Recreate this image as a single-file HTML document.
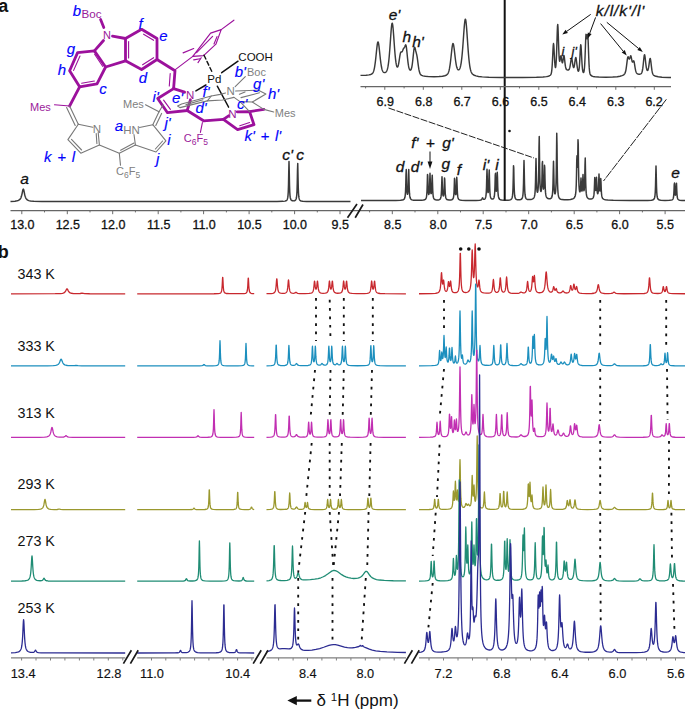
<!DOCTYPE html>
<html><head><meta charset="utf-8"><title>NMR figure</title>
<style>
html,body{margin:0;padding:0;background:#fff;}
svg{display:block;}
text{font-family:"Liberation Sans",sans-serif;}
.bi{font-style:italic;fill:#0404fc;font-size:15px;word-spacing:1.5px;stroke:#0404fc;stroke-width:0.15px;}
.ki{font-style:italic;fill:#111;font-size:15.5px;stroke:#111;stroke-width:0.3px;}
.ax{font-size:12.5px;fill:#111;stroke:#111;stroke-width:0.3px;text-anchor:middle;}
.axb{font-size:12.8px;fill:#111;stroke:#111;stroke-width:0.15px;text-anchor:middle;}
.pu{fill:#9a1a9a;font-size:11px;}
.gr{fill:#808080;font-size:11px;}
</style></head><body>
<svg width="685" height="710" viewBox="0 0 685 710">
<rect width="685" height="710" fill="#fff"/>
<text x="-1.7" y="11.8" font-size="18" font-weight="bold" fill="#111">a</text>
<path d="M10.50 201.41L15.00 201.15L17.00 200.84L18.25 200.46L19.25 199.91L20.00 199.22L20.50 198.52L20.75 198.07L21.00 197.52L21.25 196.87L21.50 196.08L21.75 195.15L22.00 194.07L22.75 190.42L23.00 189.52L23.25 189.11L23.50 189.29L23.75 190.02L24.00 191.11L24.50 193.60L24.75 194.74L25.00 195.73L25.25 196.57L25.50 197.28L25.75 197.86L26.00 198.35L26.50 199.10L27.00 199.63L27.75 200.17L28.75 200.61L30.50 201.01L33.75 201.31L41.75 201.51L94.25 201.59L194.00 201.60L277.00 201.53L283.00 201.37L285.00 201.12L286.00 200.78L286.50 200.45L286.75 200.20L287.00 199.85L287.25 199.36L287.50 198.63L287.75 197.47L288.00 195.53L288.25 191.97L288.50 184.97L288.75 171.98L289.00 161.51L289.25 171.97L289.50 184.95L289.75 191.94L290.00 195.49L290.25 197.42L290.50 198.56L290.75 199.28L291.00 199.76L291.25 200.09L291.75 200.50L292.50 200.78L293.50 200.87L294.50 200.72L295.00 200.49L295.50 200.08L295.75 199.74L296.00 199.24L296.25 198.49L296.50 197.27L296.75 195.19L297.00 191.30L297.25 183.57L297.50 170.12L297.75 163.55L298.00 176.02L298.25 187.34L298.50 193.20L298.75 196.22L299.00 197.89L299.25 198.90L299.50 199.55L299.75 199.99L300.00 200.30L300.50 200.70L301.25 201.02L302.75 201.30L306.50 201.49L328.25 201.59L350.50 201.60" fill="none" stroke="#3a3a3a" stroke-width="1.5" stroke-linejoin="round"/>
<path d="M10.5 210.6H685" stroke="#666" stroke-width="1.35" fill="none"/>
<path d="M21.8 210.6v3.6M44.5 210.6v1.8M67.3 210.6v3.6M90.0 210.6v1.8M112.7 210.6v3.6M135.4 210.6v1.8M158.2 210.6v3.6M180.9 210.6v1.8M203.6 210.6v3.6M226.4 210.6v1.8M249.1 210.6v3.6M271.8 210.6v1.8M294.6 210.6v3.6M317.3 210.6v1.8M340.0 210.6v3.6" stroke="#6a6a6a" stroke-width="1" fill="none"/>
<text class="ax" x="22.4" y="229.3">13.0</text>
<text class="ax" x="67.8" y="229.3">12.5</text>
<text class="ax" x="113.2" y="229.3">12.0</text>
<text class="ax" x="158.7" y="229.3">11.5</text>
<text class="ax" x="204.1" y="229.3">11.0</text>
<text class="ax" x="249.5" y="229.3">10.5</text>
<text class="ax" x="294.9" y="229.3">10.0</text>
<text class="ax" x="340.3" y="229.3">9.5</text>
<path d="M347.5 217.7L357 204M355.2 217.7L363 204.5" stroke="#1a1a1a" stroke-width="1.7" fill="none"/>
<text class="ki" x="24.5" y="184" text-anchor="middle">a</text>
<text class="ki" x="287.5" y="159.5" text-anchor="middle">c'</text>
<text class="ki" x="300" y="159.5" text-anchor="middle">c</text>
<path d="M361.00 200.58L395.75 200.49L400.50 200.32L402.25 200.09L403.25 199.77L403.75 199.47L404.00 199.24L404.25 198.93L404.50 198.49L404.75 197.85L405.00 196.83L405.25 195.11L405.50 191.94L405.75 185.70L406.00 174.89L406.25 169.51L406.50 179.21L406.75 187.92L407.00 192.18L407.25 193.96L407.50 194.32L407.75 193.45L408.00 190.87L408.25 185.07L408.50 174.61L408.75 169.56L409.00 179.61L409.25 188.70L409.50 193.44L409.75 195.90L410.00 197.28L410.25 198.12L410.50 198.67L410.75 199.04L411.25 199.52L412.00 199.88L413.50 200.19L416.75 200.35L421.50 200.28L423.50 200.07L424.50 199.81L425.25 199.40L425.50 199.17L425.75 198.86L426.00 198.41L426.25 197.73L426.50 196.63L426.75 194.73L427.00 191.11L427.25 184.05L427.50 174.44L427.75 175.84L428.00 185.24L428.25 191.00L428.50 193.58L428.75 194.42L429.00 194.05L429.25 192.28L429.50 188.09L429.75 179.92L430.00 173.24L430.25 179.85L430.50 187.94L430.75 192.01L431.00 193.57L431.25 193.52L431.50 191.81L431.75 187.37L432.00 179.11L432.25 175.14L432.50 183.29L432.75 190.65L433.00 194.50L433.25 196.50L433.50 197.63L433.75 198.33L434.00 198.78L434.25 199.10L434.75 199.49L435.50 199.78L436.75 199.97L438.25 199.93L439.25 199.69L439.75 199.43L440.00 199.22L440.25 198.92L440.50 198.48L440.75 197.79L441.00 196.63L441.25 194.54L441.50 190.44L441.75 182.87L442.00 176.73L442.25 182.65L442.50 189.98L442.75 193.78L443.00 195.48L443.25 196.05L443.50 195.81L443.75 194.64L444.00 191.86L444.25 186.02L444.50 177.94L444.75 179.42L445.00 187.87L445.25 193.24L445.50 195.97L445.75 197.42L446.00 198.26L446.25 198.79L446.50 199.14L447.00 199.56L447.75 199.86L449.00 200.04L450.75 199.99L451.75 199.77L452.25 199.53L452.75 199.09L453.00 198.71L453.25 198.14L453.50 197.21L453.75 195.60L454.00 192.53L454.25 186.53L454.50 178.35L454.75 179.52L455.00 187.45L455.25 192.27L455.50 194.30L455.75 194.70L456.00 193.73L456.25 190.78L456.50 184.47L456.75 177.37L457.00 181.40L457.25 189.42L457.50 194.05L457.75 196.40L458.00 197.69L458.25 198.45L458.50 198.94L458.75 199.27L459.25 199.67L460.00 199.98L461.50 200.24L465.50 200.42L476.00 200.41L479.75 200.23L480.75 200.04L481.25 199.81L481.50 199.61L481.75 199.30L482.00 198.81L482.25 198.18L482.50 197.80L482.75 198.10L483.00 198.65L483.25 199.05L483.50 199.27L483.75 199.37L484.25 199.32L484.75 199.03L485.00 198.76L485.25 198.37L485.50 197.79L485.75 196.88L486.00 195.35L486.25 192.60L486.50 187.22L486.75 177.30L487.00 169.23L487.25 176.83L487.50 186.21L487.75 190.88L488.00 192.61L488.25 192.45L488.50 190.31L488.75 184.91L489.00 174.91L489.25 170.10L489.50 179.86L489.75 188.68L490.00 193.28L490.25 195.65L490.50 196.98L490.75 197.78L491.00 198.28L491.25 198.62L491.75 198.98L492.25 199.10L492.75 199.04L493.25 198.77L493.50 198.51L493.75 198.11L494.00 197.50L494.25 196.50L494.50 194.78L494.75 191.54L495.00 185.17L495.25 175.15L495.50 173.24L495.75 182.46L496.00 188.84L496.25 191.27L496.50 191.03L496.75 187.97L497.00 180.66L497.25 172.31L497.50 177.23L497.75 186.91L498.00 192.51L498.25 195.37L498.50 196.93L498.75 197.87L499.00 198.46L499.25 198.87L499.75 199.37L500.50 199.75L501.75 200.04L504.50 200.22L508.00 200.16L509.75 199.94L510.75 199.59L511.25 199.23L511.50 198.95L511.75 198.56L512.00 198.00L512.25 197.12L512.50 195.69L512.75 193.17L513.00 188.31L513.25 178.74L513.50 165.70L513.75 167.87L514.00 181.14L514.25 189.54L514.50 193.77L514.75 196.01L515.00 197.28L515.25 198.07L515.50 198.59L515.75 198.94L516.25 199.37L517.00 199.68L518.25 199.86L519.75 199.79L520.75 199.55L521.50 199.12L521.75 198.87L522.00 198.53L522.25 198.04L522.50 197.32L522.75 196.18L523.00 194.26L523.25 190.74L523.50 183.80L523.75 170.94L524.00 160.57L524.25 170.93L524.50 183.78L524.75 190.70L525.00 194.21L525.25 196.12L525.50 197.25L525.75 197.96L526.00 198.43L526.25 198.76L526.75 199.16L527.50 199.46L528.75 199.60L530.50 199.50L532.00 199.17L532.75 198.83L533.25 198.48L533.75 197.93L534.00 197.52L534.25 196.95L534.50 196.14L534.75 194.90L535.00 192.87L535.25 189.22L535.50 182.14L535.75 169.11L536.00 158.54L536.25 168.65L536.50 181.21L536.75 187.75L537.00 190.78L537.25 192.04L537.50 192.27L537.75 191.67L538.00 190.09L538.25 186.96L538.50 180.85L538.75 168.52L539.00 146.98L539.25 136.40L539.50 156.25L539.75 174.20L540.00 183.38L540.25 187.92L540.50 190.21L540.75 191.26L541.00 191.47L541.25 190.84L541.50 189.04L541.75 185.10L542.00 176.87L542.25 163.68L542.50 161.47L542.75 174.34L543.00 183.56L543.25 187.76L543.50 189.12L543.75 188.35L544.00 184.89L544.25 176.78L544.50 165.30L544.75 167.67L545.00 180.13L545.25 188.09L545.50 192.17L545.75 194.38L546.00 195.70L546.25 196.54L546.50 197.12L546.75 197.54L547.25 198.08L548.00 198.53L549.00 198.79L550.00 198.77L550.75 198.51L551.25 198.11L551.50 197.78L551.75 197.31L552.00 196.60L552.25 195.49L552.50 193.62L552.75 190.22L553.00 183.57L553.25 171.26L553.50 161.30L553.75 170.97L554.00 182.97L554.25 189.26L554.50 192.22L554.75 193.52L555.00 193.85L555.25 193.42L555.50 192.14L555.75 189.56L556.00 184.55L556.25 174.52L556.50 154.95L556.75 133.33L557.00 144.88L557.25 168.41L557.50 181.95L557.75 188.79L558.00 192.48L558.25 194.65L558.50 196.01L558.75 196.93L559.00 197.56L559.25 198.03L559.50 198.38L560.00 198.85L560.75 199.27L562.00 199.61L564.25 199.82L567.75 199.79L570.50 199.51L572.25 199.08L573.25 198.63L574.00 198.05L574.50 197.43L574.75 196.99L575.00 196.41L575.25 195.63L575.50 194.50L575.75 192.80L576.00 189.99L576.25 184.96L576.50 175.36L576.75 160.29L577.00 155.74L577.25 165.12L577.50 167.33L577.75 157.40L578.00 139.70L578.25 144.38L578.50 165.63L578.75 179.03L579.00 185.74L579.25 189.18L579.50 190.98L579.75 191.77L580.00 191.76L580.25 190.74L580.50 188.02L580.75 182.51L581.00 177.99L581.25 182.53L581.50 188.01L581.75 190.58L582.00 191.17L582.25 190.15L582.50 186.86L582.75 180.10L583.00 174.52L583.25 180.06L583.50 186.75L583.75 189.90L584.00 190.68L584.25 189.66L584.50 186.29L584.75 178.63L585.00 164.79L585.25 158.12L585.50 171.48L585.75 183.57L586.00 189.89L586.25 193.18L586.50 195.04L586.75 196.18L587.00 196.93L587.25 197.45L587.50 197.83L588.00 198.32L588.75 198.73L589.75 198.97L591.00 198.98L592.00 198.73L592.50 198.45L592.75 198.24L593.00 197.95L593.25 197.53L593.50 196.90L593.75 195.89L594.00 194.14L594.25 190.83L594.50 184.55L594.75 177.57L595.00 180.65L595.25 187.20L595.50 190.29L595.75 190.52L596.00 188.08L596.25 182.22L596.50 177.33L596.75 182.52L597.00 188.81L597.25 192.03L597.50 193.39L597.75 193.69L598.00 193.13L598.25 191.41L598.50 187.56L598.75 180.14L599.00 174.06L599.25 179.94L599.50 187.08L599.75 190.40L600.00 191.04L600.25 189.29L600.50 184.30L600.75 178.48L601.00 182.20L601.25 189.33L601.50 193.49L601.75 195.66L602.00 196.88L602.25 197.63L602.50 198.13L602.75 198.48L603.25 198.95L604.00 199.36L605.25 199.73L607.75 200.07L613.25 200.33L629.50 200.50L647.75 200.46L651.25 200.28L652.50 200.06L653.25 199.76L653.75 199.38L654.00 199.09L654.25 198.66L654.50 198.03L654.75 197.04L655.00 195.36L655.25 192.29L655.50 186.23L655.75 175.00L656.00 165.95L656.25 175.00L656.50 186.23L656.75 192.29L657.00 195.36L657.25 197.04L657.50 198.03L657.75 198.66L658.00 199.08L658.25 199.38L658.75 199.76L659.50 200.05L661.00 200.30L665.00 200.44L669.50 200.35L671.25 200.13L672.00 199.87L672.50 199.53L672.75 199.25L673.00 198.84L673.25 198.18L673.50 197.05L673.75 194.94L674.00 190.81L674.25 184.30L674.50 183.08L674.75 189.10L675.00 193.32L675.25 195.04L675.50 195.17L675.75 193.82L676.00 190.20L676.25 184.09L676.50 183.23L676.75 189.63L677.00 194.33L677.25 196.74L677.50 198.01L677.75 198.74L678.00 199.19L678.25 199.50L678.75 199.86L679.75 200.19L682.00 200.42L685.00 200.50" fill="none" stroke="#3a3a3a" stroke-width="1.5" stroke-linejoin="round"/>
<path d="M504.7 0V200.5" stroke="#111" stroke-width="2" fill="none"/>
<path d="M392.3 210.6v3.6M415.0 210.6v1.8M437.8 210.6v3.6M460.5 210.6v1.8M483.2 210.6v3.6M506.0 210.6v1.8M528.7 210.6v3.6M551.4 210.6v1.8M574.2 210.6v3.6M596.9 210.6v1.8M619.6 210.6v3.6M642.4 210.6v1.8M665.1 210.6v3.6M687.9 210.6v1.8M369.6 210.6v1.8" stroke="#6a6a6a" stroke-width="1" fill="none"/>
<text class="ax" x="392.8" y="229.3">8.5</text>
<text class="ax" x="438.2" y="229.3">8.0</text>
<text class="ax" x="483.6" y="229.3">7.5</text>
<text class="ax" x="529.1" y="229.3">7.0</text>
<text class="ax" x="574.5" y="229.3">6.5</text>
<text class="ax" x="619.9" y="229.3">6.0</text>
<text class="ax" x="665.3" y="229.3">5.5</text>
<text class="ki" x="400" y="171.5" text-anchor="middle">d</text>
<text class="ki" x="416.5" y="171.5" text-anchor="middle">d'</text>
<text class="ki" x="432.5" y="147.5" text-anchor="middle" word-spacing="3">f' + g'</text>
<path d="M430 151.5V163" stroke="#111" stroke-width="1" fill="none"/><path d="M427.6 161.5L430 169L432.4 161.5Z" fill="#111"/>
<text class="ki" x="445.8" y="168.5" text-anchor="middle">g</text>
<text class="ki" x="459" y="174.5" text-anchor="middle">f</text>
<text class="ki" x="486" y="170" text-anchor="middle">i'</text>
<text class="ki" x="497" y="170" text-anchor="middle">i</text>
<text class="ki" x="675.5" y="178" text-anchor="middle">e</text>
<circle cx="509.5" cy="131" r="1.3" fill="#111"/>
<path d="M360.50 75.39L366.00 75.22L369.00 74.90L370.75 74.47L371.75 73.99L372.25 73.59L372.75 73.00L373.00 72.59L373.25 72.10L373.50 71.49L373.75 70.75L374.00 69.87L374.25 68.81L374.50 67.57L374.75 66.13L375.00 64.48L375.25 62.64L375.50 60.59L375.75 58.38L376.00 56.03L376.50 51.16L376.75 48.79L377.00 46.59L377.25 44.69L377.50 43.20L377.75 42.25L378.00 41.92L378.25 42.22L378.50 43.14L378.75 44.58L379.00 46.45L379.25 48.61L379.75 53.35L380.00 55.74L380.25 58.05L380.50 60.22L380.75 62.22L381.00 64.02L381.25 65.62L381.50 67.01L381.75 68.20L382.00 69.20L382.25 70.03L382.50 70.70L382.75 71.24L383.00 71.67L383.25 71.99L383.75 72.42L384.25 72.61L385.00 72.59L385.50 72.39L386.00 72.00L386.50 71.36L386.75 70.90L387.00 70.33L387.25 69.63L387.50 68.76L387.75 67.70L388.00 66.43L388.25 64.92L388.50 63.15L388.75 61.09L389.00 58.74L389.25 56.10L389.50 53.18L389.75 49.99L390.00 46.59L390.75 35.82L391.00 32.39L391.25 29.28L391.50 26.65L391.75 24.67L392.00 23.48L392.25 23.18L392.50 23.79L392.75 25.26L393.00 27.46L393.25 30.26L393.50 33.46L393.75 36.91L394.25 44.01L394.50 47.44L394.75 50.69L395.00 53.69L395.25 56.40L395.50 58.82L395.75 60.92L396.00 62.70L396.25 64.17L396.50 65.34L396.75 66.20L397.00 66.78L397.25 67.08L397.50 67.09L397.75 66.83L398.00 66.29L398.25 65.49L398.50 64.44L398.75 63.15L399.00 61.68L399.50 58.36L399.75 56.69L400.00 55.13L400.25 53.82L400.50 52.83L400.75 52.22L401.00 51.94L401.25 51.90L401.75 51.96L402.00 51.84L402.25 51.52L402.50 51.01L403.25 49.05L403.50 48.58L404.00 48.03L404.25 47.76L404.50 47.36L404.75 46.81L405.25 45.48L405.50 44.98L405.75 44.87L406.00 45.32L406.25 46.43L406.50 48.14L406.75 50.33L407.00 52.79L407.50 57.85L407.75 60.20L408.00 62.32L408.25 64.16L408.50 65.73L408.75 67.01L409.00 68.03L409.25 68.82L409.50 69.40L409.75 69.81L410.00 70.07L410.25 70.18L410.50 70.15L410.75 69.98L411.00 69.64L411.25 69.11L411.50 68.36L411.75 67.36L412.00 66.08L412.25 64.51L412.50 62.65L412.75 60.53L413.00 58.19L413.50 53.30L413.75 51.04L414.00 49.15L414.25 47.83L414.50 47.19L414.75 47.23L415.00 47.82L415.25 48.76L415.75 50.96L416.25 52.94L416.50 53.87L416.75 54.91L417.00 56.15L417.25 57.66L417.50 59.42L418.25 65.17L418.50 66.94L418.75 68.53L419.00 69.92L419.25 71.10L419.50 72.08L419.75 72.88L420.00 73.51L420.25 74.00L420.50 74.39L421.00 74.92L421.75 75.40L423.00 75.86L425.25 76.31L428.75 76.64L434.00 76.76L439.00 76.58L442.50 76.21L444.75 75.72L446.00 75.25L446.75 74.81L447.25 74.37L447.75 73.75L448.00 73.34L448.25 72.84L448.50 72.23L448.75 71.50L449.00 70.63L449.25 69.60L449.50 68.39L449.75 66.99L450.00 65.40L450.25 63.62L450.50 61.65L450.75 59.52L451.25 54.92L451.75 50.28L452.00 48.16L452.25 46.31L452.50 44.85L452.75 43.90L453.00 43.51L453.25 43.73L453.50 44.52L453.75 45.81L454.00 47.49L454.25 49.45L455.00 55.92L455.25 58.01L455.50 59.97L455.75 61.76L456.00 63.37L456.25 64.79L456.50 66.00L456.75 67.02L457.00 67.86L457.25 68.54L457.50 69.06L457.75 69.44L458.00 69.70L458.25 69.85L458.50 69.90L458.75 69.85L459.00 69.70L459.25 69.45L459.50 69.10L459.75 68.62L460.00 68.01L460.25 67.26L460.50 66.33L460.75 65.20L461.00 63.86L461.25 62.29L461.50 60.47L461.75 58.38L462.00 56.01L462.25 53.38L462.50 50.49L462.75 47.37L463.00 44.05L463.50 37.03L463.75 33.49L464.00 30.07L464.25 26.88L464.50 24.07L464.75 21.78L465.00 20.16L465.25 19.30L465.50 19.28L465.75 20.10L466.00 21.71L466.25 24.00L466.50 26.84L466.75 30.09L467.00 33.61L467.75 44.56L468.00 48.04L468.25 51.34L468.50 54.40L468.75 57.21L469.00 59.75L469.25 62.02L469.50 64.03L469.75 65.78L470.00 67.29L470.25 68.58L470.50 69.68L470.75 70.61L471.00 71.39L471.25 72.05L471.50 72.60L472.00 73.44L472.50 74.05L473.25 74.69L474.25 75.25L476.00 75.89L478.50 76.43L482.25 76.89L488.75 77.26L501.00 77.51L522.50 77.54L536.50 77.34L543.00 77.03L546.50 76.64L548.50 76.18L549.50 75.77L550.25 75.27L550.50 75.02L550.75 74.68L551.00 74.21L551.25 73.48L551.50 72.35L551.75 70.60L552.00 68.02L552.25 64.45L552.50 59.90L553.00 49.41L553.25 45.27L553.50 43.56L553.75 44.92L554.00 48.71L554.50 58.41L554.75 62.46L555.00 65.40L555.25 67.11L555.50 67.56L555.75 66.70L556.00 64.42L556.25 60.53L556.50 54.92L556.75 47.75L557.00 39.61L557.25 31.73L557.50 26.00L557.75 24.40L558.00 27.56L558.25 34.09L558.50 41.86L558.75 49.16L559.00 54.98L559.25 58.88L559.50 60.86L559.75 61.20L560.00 60.32L560.25 58.76L560.50 57.10L560.75 55.97L561.00 55.87L561.25 56.85L561.50 58.53L561.75 60.35L562.00 61.84L562.25 62.69L562.50 62.72L562.75 61.93L563.00 60.45L563.50 56.80L563.75 55.63L564.00 55.56L564.25 56.67L564.50 58.61L565.00 63.15L565.25 65.12L565.50 66.69L565.75 67.85L566.00 68.66L566.25 69.19L566.50 69.52L567.00 69.87L567.75 70.06L568.25 70.06L568.75 69.84L569.00 69.58L569.25 69.16L569.50 68.54L569.75 67.67L570.00 66.54L570.25 65.14L570.50 63.55L570.75 61.86L571.00 60.26L571.25 59.00L571.50 58.36L571.75 58.51L572.00 59.43L572.25 60.90L572.75 64.29L573.00 65.76L573.25 66.85L573.50 67.48L573.75 67.59L574.00 67.16L574.25 66.20L574.50 64.80L574.75 63.07L575.00 61.18L575.25 59.41L575.50 58.07L575.75 57.50L576.00 57.88L576.25 59.13L576.50 60.98L577.00 65.19L577.25 67.10L577.50 68.70L577.75 69.95L578.00 70.81L578.25 71.28L578.50 71.30L578.75 70.80L579.00 69.63L579.25 67.61L579.50 64.60L579.75 60.59L580.00 55.81L580.25 50.84L580.50 46.70L580.75 44.67L581.00 45.60L581.25 49.10L581.50 53.94L581.75 58.94L582.00 63.36L582.25 66.85L582.50 69.35L582.75 70.98L583.00 71.92L583.25 72.37L583.50 72.45L583.75 72.16L584.00 71.41L584.25 69.96L584.50 67.49L584.75 63.66L585.00 58.29L585.25 51.57L585.50 44.28L585.75 37.90L586.00 34.35L586.25 34.40L586.50 36.59L586.75 38.56L587.00 38.81L587.25 37.20L587.50 34.97L587.75 34.40L588.00 37.33L588.25 43.39L588.50 50.75L588.75 57.79L589.00 63.60L589.25 67.88L589.50 70.76L589.75 72.58L590.00 73.69L590.25 74.39L590.50 74.84L591.00 75.43L591.75 75.95L593.00 76.43L595.00 76.80L598.75 77.08L605.75 77.19L612.75 77.02L617.25 76.67L620.00 76.23L622.00 75.66L623.25 75.10L624.00 74.59L624.50 74.08L624.75 73.71L625.00 73.24L625.25 72.63L625.50 71.83L625.75 70.81L626.00 69.53L626.25 67.98L626.50 66.19L626.75 64.21L627.25 60.15L627.50 58.44L627.75 57.25L628.00 56.73L628.25 56.86L628.50 57.44L628.75 58.18L629.00 58.80L629.25 59.12L629.50 59.02L629.75 58.51L630.00 57.68L630.25 56.75L630.50 56.00L630.75 55.73L631.00 56.12L631.25 57.10L631.75 59.80L632.00 60.97L632.25 61.77L632.50 62.13L632.75 62.08L633.00 61.71L633.25 61.21L633.50 60.84L633.75 60.86L634.00 61.42L634.25 62.50L634.50 63.94L635.00 67.13L635.25 68.59L635.50 69.85L635.75 70.89L636.00 71.72L636.25 72.35L636.50 72.82L636.75 73.18L637.25 73.64L638.00 74.00L639.00 74.20L640.00 74.16L640.75 73.90L641.25 73.52L641.50 73.21L641.75 72.75L642.00 72.11L642.25 71.22L642.50 70.02L642.75 68.46L643.00 66.53L643.25 64.28L643.75 59.27L644.00 57.00L644.25 55.36L644.50 54.69L644.75 55.14L645.00 56.57L645.25 58.63L645.75 63.23L646.00 65.30L646.25 67.04L646.50 68.41L646.75 69.41L647.00 70.08L647.25 70.44L647.50 70.53L647.75 70.34L648.00 69.86L648.25 69.07L648.50 67.96L648.75 66.54L649.00 64.84L649.50 61.13L649.75 59.55L650.00 58.56L650.25 58.43L650.50 59.24L650.75 60.82L651.00 62.85L651.50 67.16L651.75 69.07L652.00 70.68L652.25 71.98L652.50 72.99L652.75 73.75L653.00 74.32L653.25 74.73L653.75 75.27L654.50 75.75L656.00 76.31L658.25 76.78L662.00 77.18L669.00 77.49L671.00 77.54" fill="none" stroke="#3a3a3a" stroke-width="1.45" stroke-linejoin="round"/>
<path d="M360.5 86.6H671" stroke="#666" stroke-width="1.35" fill="none"/>
<path d="M365.6 86.6v1.8M384.8 86.6v3.2M404.1 86.6v1.8M423.3 86.6v3.2M442.6 86.6v1.8M461.8 86.6v3.2M481.1 86.6v1.8M500.3 86.6v3.2M519.5 86.6v1.8M538.8 86.6v3.2M558.0 86.6v1.8M577.3 86.6v3.2M596.5 86.6v1.8M615.8 86.6v3.2M635.0 86.6v1.8M654.3 86.6v3.2" stroke="#6a6a6a" stroke-width="1" fill="none"/>
<text class="ax" x="385.3" y="106.2">6.9</text>
<text class="ax" x="423.7" y="106.2">6.8</text>
<text class="ax" x="462.1" y="106.2">6.7</text>
<text class="ax" x="500.5" y="106.2">6.6</text>
<text class="ax" x="538.9" y="106.2">6.5</text>
<text class="ax" x="577.3" y="106.2">6.4</text>
<text class="ax" x="615.7" y="106.2">6.3</text>
<text class="ax" x="654.1" y="106.2">6.2</text>
<text class="ki" x="394.5" y="20" text-anchor="middle">e'</text>
<text class="ki" x="406.8" y="42" text-anchor="middle">h</text>
<text class="ki" x="418" y="47" text-anchor="middle">h'</text>
<text class="ki" x="563" y="56" text-anchor="middle" style="font-size:12.5px">i</text>
<text class="ki" x="574.2" y="56" text-anchor="middle" style="font-size:12.5px">j'</text>
<text class="ki" x="620.5" y="16" text-anchor="middle" letter-spacing="0.9">k/l/k'/l'</text>
<path d="M590.7 14.4L566.8 31.3" stroke="#111" stroke-width="1.00" fill="none"/>
<path d="M562.3 34.5L565.6 29.7L567.9 33.0Z" fill="#111"/>
<path d="M595.6 17.4L589.7 33.3" stroke="#111" stroke-width="1.00" fill="none"/>
<path d="M587.8 38.5L587.8 32.6L591.6 34.0Z" fill="#111"/>
<path d="M600.6 23.6L623.2 51.2" stroke="#111" stroke-width="1.00" fill="none"/>
<path d="M626.7 55.5L621.7 52.5L624.8 50.0Z" fill="#111"/>
<path d="M606.8 22.3L638.6 48.5" stroke="#111" stroke-width="1.00" fill="none"/>
<path d="M642.8 52.0L637.3 50.0L639.8 47.0Z" fill="#111"/>
<path d="M388.5 108L534 158" stroke="#222" stroke-width="1" stroke-dasharray="7 1.5" fill="none"/>
<path d="M666.4 99.3L603.5 181" stroke="#222" stroke-width="1" stroke-dasharray="9 1" fill="none"/>
<text x="-2.3" y="258" font-size="18" font-weight="bold" fill="#111">b</text>
<path d="M11.00 293.80L55.20 293.72L60.60 293.54L62.60 293.28L63.80 292.90L64.60 292.39L65.20 291.75L65.60 291.13L66.40 289.49L66.60 289.13L66.80 288.89L67.00 288.80L67.20 288.89L67.40 289.13L67.80 289.91L68.40 291.12L68.80 291.75L69.40 292.39L70.20 292.89L71.40 293.27L73.60 293.54L78.00 293.64L80.20 293.51L82.00 293.20L84.60 293.63L89.60 293.76L125.20 293.80" fill="none" stroke="#c8282e" stroke-width="1.30" stroke-linejoin="round"/>
<path d="M137.20 293.80L214.00 293.74L218.20 293.59L219.60 293.36L220.40 293.03L220.80 292.69L221.00 292.44L221.20 292.10L221.40 291.60L221.60 290.88L221.80 289.79L222.00 288.05L222.20 285.30L222.40 281.30L222.60 277.45L222.80 277.45L223.00 281.30L223.20 285.30L223.40 288.05L223.60 289.79L223.80 290.88L224.00 291.60L224.20 292.09L224.40 292.44L224.80 292.88L225.40 293.23L226.60 293.52L229.60 293.70L240.40 293.72L244.00 293.57L245.40 293.32L246.00 293.06L246.40 292.74L246.60 292.50L246.80 292.17L247.00 291.71L247.20 291.02L247.40 289.97L247.60 288.32L247.80 285.70L248.00 281.89L248.20 278.22L248.40 278.22L248.60 281.89L248.80 285.70L249.00 288.32L249.20 289.97L249.40 291.02L249.60 291.71L249.80 292.17L250.00 292.51L250.40 292.93L251.00 293.26L252.20 293.53L254.20 293.68" fill="none" stroke="#c8282e" stroke-width="1.30" stroke-linejoin="round"/>
<path d="M266.50 293.70L271.10 293.54L272.90 293.28L273.90 292.91L274.50 292.46L274.90 291.93L275.10 291.54L275.30 291.02L275.50 290.32L275.70 289.35L275.90 288.00L276.10 286.12L276.30 283.65L276.50 280.87L276.70 278.81L276.90 278.80L277.10 280.86L277.30 283.64L277.50 286.11L277.70 287.98L277.90 289.33L278.10 290.29L278.30 290.99L278.50 291.50L278.70 291.89L279.10 292.41L279.70 292.85L280.70 293.19L282.30 293.36L284.10 293.29L285.30 293.03L285.90 292.73L286.30 292.40L286.70 291.86L286.90 291.45L287.10 290.91L287.30 290.16L287.50 289.12L287.70 287.67L287.90 285.68L288.10 283.22L288.30 280.85L288.50 279.80L288.70 280.85L288.90 283.22L289.10 285.69L289.30 287.67L289.50 289.12L289.70 290.17L289.90 290.91L290.10 291.46L290.30 291.86L290.70 292.41L291.30 292.86L292.10 293.15L293.30 293.29L294.30 293.20L294.90 292.98L295.70 292.40L295.90 292.31L296.10 292.32L296.50 292.58L297.10 293.05L297.90 293.37L299.50 293.57L304.90 293.62L309.10 293.45L310.90 293.17L311.70 292.87L312.30 292.45L312.70 291.96L312.90 291.61L313.10 291.14L313.30 290.51L313.50 289.65L313.70 288.45L313.90 286.80L314.10 284.69L314.30 282.46L314.50 281.08L314.70 281.46L314.90 283.23L315.10 285.28L315.30 286.95L315.50 288.10L315.70 288.79L315.90 289.12L316.10 289.12L316.30 288.79L316.50 288.10L316.70 286.95L316.90 285.28L317.10 283.23L317.30 281.46L317.50 281.08L317.70 282.46L317.90 284.67L318.10 286.78L318.30 288.42L318.50 289.62L318.70 290.48L318.90 291.10L319.10 291.56L319.30 291.91L319.70 292.39L320.30 292.79L321.30 293.11L323.10 293.28L325.10 293.19L326.30 292.91L326.90 292.61L327.30 292.27L327.70 291.73L327.90 291.33L328.10 290.80L328.30 290.07L328.50 289.05L328.70 287.65L328.90 285.77L329.10 283.53L329.30 281.59L329.50 281.04L329.70 282.24L329.90 284.27L330.10 286.16L330.30 287.56L330.50 288.47L330.70 288.97L330.90 289.13L331.10 288.97L331.30 288.47L331.50 287.56L331.70 286.16L331.90 284.27L332.10 282.24L332.30 281.04L332.50 281.59L332.70 283.53L332.90 285.76L333.10 287.64L333.30 289.05L333.50 290.06L333.70 290.79L333.90 291.33L334.10 291.72L334.50 292.26L335.10 292.72L336.10 293.06L337.70 293.23L339.50 293.14L340.50 292.90L341.10 292.61L341.50 292.27L341.90 291.74L342.10 291.34L342.30 290.80L342.50 290.07L342.70 289.06L342.90 287.65L343.10 285.77L343.30 283.53L343.50 281.59L343.70 281.04L343.90 282.24L344.10 284.28L344.30 286.18L344.50 287.58L344.70 288.49L344.90 288.99L345.10 289.15L345.30 289.00L345.50 288.49L345.70 287.58L345.90 286.18L346.10 284.28L346.30 282.24L346.50 281.04L346.70 281.59L346.90 283.54L347.10 285.79L347.30 287.68L347.50 289.10L347.70 290.12L347.90 290.85L348.10 291.39L348.30 291.80L348.70 292.35L349.30 292.81L350.30 293.19L352.10 293.46L356.70 293.64L364.30 293.58L367.10 293.37L368.30 293.11L369.10 292.72L369.50 292.38L369.90 291.83L370.10 291.42L370.30 290.88L370.50 290.14L370.70 289.12L370.90 287.70L371.10 285.81L371.30 283.55L371.50 281.59L371.70 281.04L371.90 282.25L372.10 284.29L372.30 286.20L372.50 287.62L372.70 288.53L372.90 289.04L373.10 289.20L373.30 289.04L373.50 288.53L373.70 287.62L373.90 286.20L374.10 284.29L374.30 282.25L374.50 281.04L374.70 281.59L374.90 283.55L375.10 285.81L375.30 287.71L375.50 289.13L375.70 290.15L375.90 290.89L376.10 291.43L376.30 291.84L376.70 292.39L377.30 292.86L378.30 293.24L380.10 293.51L384.90 293.70L405.90 293.78" fill="none" stroke="#c8282e" stroke-width="1.30" stroke-linejoin="round"/>
<path d="M419.00 293.73L431.60 293.58L435.40 293.34L437.20 293.01L438.20 292.59L438.80 292.14L439.20 291.65L439.40 291.31L439.60 290.89L439.80 290.34L440.00 289.62L440.20 288.65L440.40 287.33L440.60 285.49L440.80 282.95L441.00 279.61L441.20 275.85L441.40 272.99L441.60 272.79L441.80 275.21L442.00 278.50L442.20 281.27L442.40 283.09L442.60 283.99L442.80 284.04L443.00 283.31L443.20 281.95L443.40 280.49L443.60 280.00L443.80 281.14L444.20 285.47L444.40 287.21L444.60 288.49L444.80 289.40L445.00 290.05L445.20 290.52L445.40 290.84L445.60 291.06L446.00 291.28L446.40 291.23L446.60 291.10L446.80 290.89L447.00 290.57L447.20 290.10L447.40 289.43L447.60 288.47L447.80 287.14L448.00 285.36L448.20 283.34L448.40 281.79L448.60 281.62L448.80 282.82L449.00 284.44L449.20 285.73L449.40 286.43L449.60 286.54L449.80 286.04L450.00 284.92L450.40 281.64L450.60 281.00L450.80 282.02L451.20 286.17L451.40 287.87L451.60 289.12L451.80 290.02L452.00 290.67L452.20 291.15L452.40 291.51L452.80 292.00L453.40 292.40L454.20 292.64L455.40 292.69L456.40 292.49L457.00 292.22L457.60 291.71L458.00 291.13L458.20 290.71L458.40 290.18L458.60 289.46L458.80 288.47L459.00 287.10L459.20 285.11L459.40 282.13L459.60 277.59L459.80 270.73L460.00 261.49L460.20 253.33L460.40 253.32L460.60 261.48L460.80 270.71L461.00 277.56L461.20 282.10L461.40 285.07L461.60 287.05L461.80 288.42L462.00 289.40L462.20 290.11L462.40 290.64L462.60 291.05L463.00 291.61L463.60 292.10L464.40 292.41L465.60 292.52L466.80 292.37L467.80 292.01L468.40 291.63L469.00 291.02L469.40 290.41L469.60 290.00L469.80 289.51L470.00 288.90L470.20 288.12L470.40 287.14L470.60 285.85L470.80 284.14L471.00 281.82L471.20 278.61L471.40 274.16L471.60 268.12L471.80 260.63L472.00 253.38L472.20 250.00L472.40 252.76L472.60 259.35L472.80 266.12L473.00 271.34L473.20 274.82L473.40 276.84L473.60 277.66L473.80 277.41L474.00 276.06L474.20 273.42L474.40 269.16L474.60 262.96L474.80 255.02L475.00 247.30L475.20 244.00L475.40 247.76L475.60 255.97L475.80 264.45L476.00 271.26L476.20 276.25L476.40 279.79L476.60 282.30L476.80 284.08L477.00 285.34L477.20 286.19L477.40 286.72L477.60 286.95L477.80 286.88L478.00 286.46L478.20 285.61L478.40 284.26L478.80 280.69L479.00 280.00L479.20 281.05L479.60 285.40L479.80 287.18L480.00 288.51L480.20 289.47L480.40 290.18L480.60 290.72L480.80 291.12L481.20 291.70L481.80 292.22L482.60 292.61L484.00 292.95L486.40 293.16L488.80 293.09L490.00 292.86L490.80 292.50L491.20 292.16L491.60 291.61L491.80 291.20L492.00 290.65L492.20 289.90L492.40 288.85L492.60 287.39L492.80 285.40L493.00 282.93L493.20 280.56L493.40 279.50L493.60 280.54L493.80 282.90L494.00 285.36L494.20 287.33L494.40 288.77L494.60 289.80L494.80 290.53L495.00 291.06L495.20 291.45L495.60 291.94L496.20 292.30L496.80 292.39L497.40 292.27L498.00 291.89L498.40 291.38L498.60 290.99L498.80 290.47L499.00 289.75L499.20 288.75L499.40 287.36L499.60 285.41L499.80 282.85L500.00 279.96L500.20 277.82L500.40 277.81L500.60 279.95L500.80 282.83L501.00 285.39L501.20 287.32L501.40 288.71L501.60 289.70L501.80 290.40L502.00 290.91L502.20 291.29L502.60 291.76L503.00 292.00L503.60 292.08L504.00 291.96L504.40 291.66L504.60 291.42L504.80 291.09L505.00 290.64L505.20 290.02L505.40 289.16L505.60 287.95L505.80 286.25L506.00 283.92L506.20 281.02L506.40 278.23L506.60 277.00L506.80 278.25L507.00 281.07L507.20 284.00L507.40 286.35L507.60 288.09L507.80 289.33L508.00 290.22L508.20 290.87L508.40 291.36L508.60 291.73L509.00 292.25L509.60 292.70L510.60 293.07L512.40 293.33L515.80 293.42L518.20 293.28L519.20 293.05L520.00 292.62L520.80 292.05L521.20 292.03L522.40 292.72L523.20 292.90L524.20 292.84L525.00 292.54L525.40 292.26L525.80 291.79L526.00 291.44L526.20 290.97L526.40 290.33L526.60 289.44L526.80 288.20L527.00 286.51L527.40 282.41L527.60 281.50L527.80 282.35L528.20 286.33L528.40 287.95L528.60 289.11L528.80 289.93L529.00 290.48L529.20 290.86L529.40 291.10L529.60 291.25L530.00 291.31L530.40 291.10L530.60 290.88L530.80 290.56L531.00 290.11L531.20 289.50L531.40 288.65L531.60 287.46L531.80 285.80L532.00 283.55L532.40 277.95L532.60 276.50L532.80 277.16L533.00 279.06L533.20 280.83L533.40 281.75L533.60 281.63L533.80 280.46L534.00 278.42L534.20 276.27L534.40 275.50L534.60 277.04L535.00 283.06L535.20 285.50L535.40 287.31L535.60 288.61L535.80 289.56L536.00 290.26L536.20 290.78L536.40 291.19L536.80 291.75L537.40 292.24L538.20 292.58L539.40 292.75L540.80 292.65L541.80 292.38L542.60 291.92L543.20 291.32L543.60 290.71L543.80 290.30L544.00 289.80L544.20 289.17L544.40 288.40L544.60 287.42L544.80 286.19L545.00 284.62L545.20 282.67L545.40 280.28L545.80 274.80L546.00 272.64L546.20 271.80L546.40 272.63L546.60 274.79L547.00 280.27L547.20 282.65L547.40 284.60L547.60 286.16L547.80 287.39L548.00 288.36L548.20 289.13L548.40 289.74L548.60 290.23L549.00 290.96L549.40 291.45L550.00 291.89L550.60 292.11L551.20 292.12L551.80 291.89L552.20 291.49L552.40 291.17L552.60 290.73L552.80 290.13L553.00 289.33L553.40 287.33L553.60 286.62L553.80 286.58L554.00 287.21L554.40 289.01L554.60 289.66L554.80 290.08L555.00 290.28L555.20 290.28L555.40 290.07L555.60 289.67L556.00 288.65L556.20 288.50L556.40 288.83L556.80 290.25L557.00 290.90L557.20 291.41L557.40 291.79L557.80 292.30L558.40 292.69L559.20 292.90L560.20 292.91L561.00 292.72L561.60 292.36L562.20 291.73L562.60 291.24L562.80 291.06L563.00 291.00L563.20 291.07L563.60 291.48L564.20 292.20L564.80 292.65L565.60 292.92L566.80 292.98L567.80 292.80L568.40 292.51L568.80 292.17L569.20 291.61L569.40 291.19L569.60 290.64L569.80 289.89L570.00 288.92L570.40 286.51L570.60 285.65L570.80 285.58L571.00 286.32L571.40 288.44L571.60 289.24L571.80 289.78L572.00 290.10L572.20 290.21L572.40 290.15L572.60 289.90L572.80 289.43L573.00 288.71L573.20 287.70L573.60 285.07L573.80 284.14L574.00 284.12L574.20 285.02L574.60 287.56L574.80 288.51L575.00 289.15L575.20 289.50L575.40 289.59L575.60 289.43L575.80 289.02L576.00 288.35L576.20 287.51L576.40 286.76L576.60 286.50L576.80 286.97L577.00 287.95L577.20 289.03L577.40 289.98L577.60 290.73L577.80 291.30L578.00 291.73L578.40 292.31L579.00 292.79L580.00 293.17L581.80 293.43L586.40 293.59L591.80 293.50L594.00 293.25L595.00 292.95L595.60 292.62L596.00 292.26L596.40 291.73L596.60 291.36L596.80 290.89L597.00 290.30L597.20 289.55L597.40 288.63L597.60 287.54L597.80 286.35L598.00 285.26L598.20 284.59L598.40 284.59L598.60 285.26L598.80 286.35L599.00 287.54L599.20 288.63L599.40 289.56L599.60 290.30L599.80 290.90L600.00 291.36L600.40 292.03L600.80 292.46L601.40 292.87L602.40 293.22L604.40 293.49L608.60 293.60L611.20 293.47L612.20 293.25L613.00 292.82L613.80 292.24L614.00 292.20L614.40 292.35L615.40 293.09L616.20 293.39L617.80 293.60L624.00 293.73L640.40 293.67L644.20 293.49L645.80 293.20L646.60 292.87L647.20 292.38L647.60 291.82L647.80 291.40L648.00 290.85L648.20 290.10L648.40 289.07L648.60 287.63L648.80 285.63L649.00 282.99L649.20 280.02L649.40 277.83L649.60 277.82L649.80 280.02L650.00 282.99L650.20 285.62L650.40 287.62L650.60 289.06L650.80 290.10L651.00 290.84L651.20 291.39L651.40 291.80L651.80 292.37L652.40 292.84L653.20 293.17L654.80 293.44L657.80 293.52L659.80 293.37L660.80 293.12L661.40 292.78L661.80 292.35L662.00 292.02L662.20 291.56L662.40 290.93L662.60 290.06L662.80 288.91L663.00 287.62L663.20 286.66L663.40 286.62L663.60 287.51L663.80 288.72L664.00 289.78L664.20 290.55L664.40 291.06L664.60 291.37L664.80 291.51L665.00 291.51L665.20 291.37L665.40 291.06L665.60 290.55L665.80 289.78L666.00 288.72L666.20 287.51L666.40 286.62L666.60 286.66L666.80 287.63L667.00 288.92L667.20 290.07L667.40 290.95L667.60 291.58L667.80 292.04L668.00 292.37L668.40 292.81L669.00 293.16L670.20 293.46L673.00 293.66L685.00 293.77" fill="none" stroke="#c8282e" stroke-width="1.30" stroke-linejoin="round"/>
<path d="M11.00 365.89L47.60 365.81L53.40 365.62L55.80 365.34L57.20 364.93L58.00 364.49L58.60 363.95L59.00 363.44L59.40 362.75L59.80 361.86L60.60 359.80L60.80 359.43L61.00 359.23L61.20 359.23L61.40 359.43L61.60 359.80L62.60 362.33L63.00 363.12L63.40 363.71L64.00 364.33L64.80 364.84L66.00 365.25L68.00 365.55L72.00 365.72L74.40 365.62L76.00 365.30L78.00 365.70L81.80 365.84L125.20 365.90" fill="none" stroke="#1c8fbe" stroke-width="1.30" stroke-linejoin="round"/>
<path d="M137.20 365.90L199.60 365.84L202.00 365.69L202.80 365.46L203.20 365.19L203.80 364.58L204.00 364.50L204.20 364.58L205.00 365.34L205.60 365.60L207.00 365.78L212.60 365.80L215.80 365.64L217.00 365.41L217.60 365.14L218.00 364.83L218.20 364.59L218.40 364.27L218.60 363.81L218.80 363.14L219.00 362.11L219.20 360.45L219.40 357.61L219.60 352.68L219.80 345.36L220.00 340.70L220.20 345.36L220.40 352.68L220.60 357.61L220.80 360.45L221.00 362.11L221.20 363.14L221.40 363.81L221.60 364.27L221.80 364.59L222.20 365.00L222.80 365.34L224.00 365.61L227.00 365.80L238.00 365.82L241.80 365.67L243.00 365.46L243.80 365.10L244.20 364.73L244.40 364.44L244.60 364.03L244.80 363.44L245.00 362.52L245.20 361.03L245.40 358.50L245.60 354.10L245.80 347.56L246.00 343.40L246.20 347.56L246.40 354.10L246.60 358.50L246.80 361.03L247.00 362.52L247.20 363.44L247.40 364.04L247.60 364.44L248.00 364.94L248.60 365.32L249.60 365.59L252.20 365.79L254.20 365.84" fill="none" stroke="#1c8fbe" stroke-width="1.30" stroke-linejoin="round"/>
<path d="M266.50 365.82L271.10 365.66L272.70 365.43L273.50 365.14L274.10 364.70L274.30 364.46L274.50 364.13L274.70 363.69L274.90 363.07L275.10 362.15L275.30 360.75L275.50 358.54L275.70 355.03L275.90 349.93L276.10 345.03L276.30 345.03L276.50 349.93L276.70 355.02L276.90 358.53L277.10 360.74L277.30 362.13L277.50 363.05L277.70 363.67L277.90 364.11L278.10 364.43L278.50 364.85L279.10 365.20L280.30 365.49L282.70 365.61L284.90 365.48L285.90 365.25L286.50 364.95L286.90 364.60L287.10 364.34L287.30 363.99L287.50 363.50L287.70 362.79L287.90 361.72L288.10 360.07L288.30 357.44L288.50 353.36L288.70 348.21L288.90 345.40L289.10 348.21L289.30 353.36L289.50 357.43L289.70 360.06L289.90 361.71L290.10 362.77L290.30 363.48L290.50 363.97L290.70 364.32L291.10 364.77L291.70 365.12L292.70 365.35L293.90 365.35L294.70 365.16L295.30 364.79L295.70 364.36L296.30 363.58L296.50 363.50L296.70 363.59L297.50 364.64L298.10 365.14L298.90 365.44L300.70 365.65L305.30 365.67L308.10 365.48L309.30 365.22L310.10 364.81L310.50 364.43L310.70 364.15L310.90 363.76L311.10 363.23L311.30 362.47L311.50 361.32L311.70 359.54L311.90 356.71L312.10 352.44L312.30 347.64L312.50 346.17L312.70 349.74L312.90 354.40L313.10 357.74L313.30 359.77L313.50 360.93L313.70 361.53L313.90 361.71L314.10 361.52L314.30 360.93L314.50 359.77L314.70 357.74L314.90 354.39L315.10 349.74L315.30 346.17L315.50 347.64L315.70 352.42L315.90 356.67L316.10 359.49L316.30 361.26L316.50 362.40L316.70 363.16L316.90 363.68L317.10 364.05L317.50 364.53L318.10 364.91L318.90 365.10L319.90 365.07L320.50 364.87L321.10 364.40L321.70 363.67L321.90 363.52L322.10 363.52L322.30 363.67L323.10 364.60L323.70 364.97L324.50 365.14L325.50 365.08L326.30 364.80L326.70 364.52L327.10 364.03L327.30 363.66L327.50 363.14L327.70 362.38L327.90 361.24L328.10 359.47L328.30 356.65L328.50 352.41L328.70 347.63L328.90 346.17L329.10 349.73L329.30 354.37L329.50 357.70L329.70 359.73L329.90 360.88L330.10 361.47L330.30 361.65L330.50 361.47L330.70 360.88L330.90 359.72L331.10 357.70L331.30 354.37L331.50 349.73L331.70 346.17L331.90 347.63L332.10 352.40L332.30 356.62L332.50 359.43L332.70 361.19L332.90 362.32L333.10 363.07L333.30 363.58L333.50 363.95L333.90 364.40L334.50 364.71L335.10 364.77L335.70 364.59L336.10 364.30L336.70 363.65L336.90 363.52L337.10 363.52L337.30 363.66L338.10 364.49L338.70 364.79L339.30 364.84L339.90 364.68L340.30 364.43L340.70 363.98L340.90 363.61L341.10 363.10L341.30 362.35L341.50 361.22L341.70 359.45L341.90 356.64L342.10 352.41L342.30 347.63L342.50 346.17L342.70 349.74L342.90 354.38L343.10 357.72L343.30 359.75L343.50 360.91L343.70 361.51L343.90 361.69L344.10 361.51L344.30 360.92L344.50 359.76L344.70 357.73L344.90 354.39L345.10 349.74L345.30 346.17L345.50 347.64L345.70 352.44L345.90 356.70L346.10 359.53L346.30 361.32L346.50 362.46L346.70 363.23L346.90 363.76L347.10 364.14L347.50 364.64L348.10 365.06L349.10 365.38L351.30 365.64L357.50 365.77L364.50 365.68L366.90 365.45L367.90 365.17L368.50 364.83L368.90 364.44L369.10 364.15L369.30 363.76L369.50 363.21L369.70 362.43L369.90 361.25L370.10 359.41L370.30 356.51L370.50 352.13L370.70 347.19L370.90 345.68L371.10 349.35L371.30 354.14L371.50 357.58L371.70 359.67L371.90 360.87L372.10 361.48L372.30 361.67L372.50 361.48L372.70 360.87L372.90 359.67L373.10 357.58L373.30 354.14L373.50 349.35L373.70 345.68L373.90 347.19L374.10 352.13L374.30 356.51L374.50 359.42L374.70 361.25L374.90 362.43L375.10 363.22L375.30 363.77L375.50 364.16L375.90 364.67L376.50 365.09L377.50 365.42L379.70 365.68L386.50 365.84L405.90 365.88" fill="none" stroke="#1c8fbe" stroke-width="1.30" stroke-linejoin="round"/>
<path d="M419.00 365.83L431.60 365.67L435.00 365.45L436.40 365.18L437.20 364.85L437.60 364.55L438.00 364.05L438.20 363.66L438.40 363.12L438.60 362.33L438.80 361.11L439.00 359.21L439.20 356.28L439.40 352.59L439.60 350.50L439.80 352.31L440.00 355.70L440.20 358.28L440.40 359.78L440.60 360.45L440.80 360.51L441.00 359.98L441.20 358.73L441.40 356.55L441.60 353.67L441.80 352.00L442.00 353.37L442.20 355.93L442.40 357.74L442.60 358.53L442.80 358.46L443.00 357.55L443.20 355.60L443.40 352.15L443.60 346.58L443.80 339.44L444.00 335.50L444.20 339.35L444.40 346.40L444.60 351.85L444.80 355.16L445.00 356.91L445.20 357.54L445.40 357.19L445.60 355.73L445.80 352.89L446.00 349.05L446.20 347.00L446.40 349.46L446.60 353.76L446.80 357.14L447.00 359.29L447.20 360.61L447.40 361.39L447.60 361.83L447.80 362.02L448.00 361.99L448.20 361.73L448.40 361.18L448.60 360.21L448.80 358.58L449.00 355.91L449.20 351.97L449.40 348.16L449.60 348.12L449.80 351.83L450.00 355.65L450.20 358.18L450.40 359.62L450.60 360.32L450.80 360.45L451.00 360.06L451.20 359.03L451.40 357.10L451.60 353.89L451.80 349.74L452.00 347.50L452.20 349.91L452.40 354.23L452.60 357.64L452.80 359.83L453.00 361.19L453.20 362.03L453.40 362.56L453.60 362.87L453.80 363.02L454.00 363.03L454.20 362.90L454.40 362.57L454.60 361.97L454.80 360.94L455.00 359.28L455.20 357.17L455.40 356.00L455.60 357.15L455.80 359.26L456.00 360.91L456.20 361.94L456.40 362.54L456.60 362.88L456.80 363.05L457.00 363.09L457.20 363.04L457.40 362.90L457.60 362.67L457.80 362.33L458.00 361.85L458.20 361.20L458.40 360.29L458.60 359.00L458.80 357.13L459.00 354.32L459.20 349.95L459.40 342.97L459.60 332.15L459.80 318.49L460.00 311.00L460.20 318.40L460.40 331.95L460.60 342.65L460.80 349.48L461.00 353.65L461.20 356.18L461.40 357.63L461.60 358.28L461.80 358.17L462.00 357.24L462.20 355.72L462.40 355.00L462.60 356.42L462.80 358.70L463.00 360.50L463.20 361.69L463.40 362.46L463.60 362.98L463.80 363.33L464.20 363.76L464.80 364.03L465.40 364.03L466.00 363.79L466.40 363.44L466.80 362.85L467.00 362.44L467.40 361.33L467.60 360.73L467.80 360.24L468.00 360.00L468.20 360.09L468.40 360.44L468.80 361.31L469.00 361.63L469.20 361.84L469.40 361.93L469.60 361.90L469.80 361.76L470.00 361.49L470.20 361.06L470.40 360.44L470.60 359.56L470.80 358.29L471.00 356.44L471.20 353.67L471.40 349.35L471.60 342.48L471.80 331.84L472.00 318.42L472.20 311.00L472.40 318.09L472.60 331.17L472.80 341.43L473.00 347.88L473.20 351.71L473.40 353.91L473.60 355.04L473.80 355.39L474.00 355.07L474.20 354.05L474.40 352.15L474.60 349.01L474.80 343.93L475.00 335.67L475.20 322.35L475.40 302.89L475.60 284.15L475.80 284.25L476.00 303.20L476.20 322.87L476.40 336.43L476.60 344.96L476.80 350.36L477.00 353.89L477.20 356.27L477.40 357.92L477.60 359.08L477.80 359.90L478.00 360.46L478.20 360.80L478.40 360.94L478.60 360.86L478.80 360.52L479.00 359.79L479.20 358.49L479.40 356.24L479.60 352.62L479.80 347.99L480.00 345.50L480.20 348.22L480.40 353.08L480.60 356.94L480.80 359.46L481.00 361.05L481.20 362.10L481.40 362.81L481.60 363.32L481.80 363.69L482.20 364.19L482.80 364.63L483.80 365.00L485.60 365.27L488.40 365.36L490.20 365.20L491.00 364.97L491.60 364.61L492.00 364.16L492.20 363.81L492.40 363.32L492.60 362.62L492.80 361.58L493.00 359.95L493.20 357.36L493.40 353.34L493.60 348.27L493.80 345.50L494.00 348.26L494.20 353.32L494.40 357.33L494.60 359.91L494.80 361.53L495.00 362.56L495.20 363.25L495.40 363.72L495.60 364.05L496.00 364.47L496.60 364.76L497.40 364.83L498.00 364.70L498.60 364.31L498.80 364.09L499.00 363.78L499.20 363.35L499.40 362.74L499.60 361.83L499.80 360.45L500.00 358.25L500.20 354.76L500.40 349.70L500.60 344.83L500.80 344.83L501.00 349.69L501.20 354.75L501.40 358.24L501.60 360.43L501.80 361.81L502.00 362.71L502.20 363.31L502.40 363.74L502.60 364.04L503.00 364.41L503.60 364.64L504.20 364.62L504.80 364.33L505.20 363.89L505.40 363.53L505.60 363.02L505.80 362.27L506.00 361.13L506.20 359.36L506.40 356.52L506.60 352.11L506.80 346.54L507.00 343.50L507.20 346.56L507.40 352.15L507.60 356.57L507.80 359.43L508.00 361.22L508.20 362.38L508.40 363.16L508.60 363.69L508.80 364.08L509.20 364.59L509.80 365.00L510.80 365.31L512.80 365.52L516.40 365.53L518.20 365.36L519.20 365.06L519.80 364.68L520.60 363.90L520.80 363.76L521.00 363.70L521.20 363.74L521.80 364.25L522.40 364.73L523.20 365.03L524.20 365.11L525.20 364.96L525.80 364.71L526.20 364.42L526.60 363.91L526.80 363.52L527.00 362.96L527.20 362.15L527.40 360.93L527.60 359.00L527.80 355.94L528.00 351.50L528.20 347.24L528.40 347.20L528.60 351.39L528.80 355.74L529.00 358.72L529.20 360.56L529.40 361.69L529.60 362.40L529.80 362.83L530.00 363.08L530.20 363.21L530.40 363.23L530.60 363.17L530.80 363.00L531.00 362.74L531.20 362.34L531.40 361.76L531.60 360.92L531.80 359.68L532.00 357.79L532.20 354.84L532.40 350.19L532.60 343.46L532.80 336.85L533.00 336.18L533.20 341.35L533.40 346.27L533.60 348.39L533.80 347.52L534.00 343.61L534.20 337.62L534.40 334.50L534.60 338.96L534.80 346.52L535.00 352.49L535.20 356.37L535.40 358.84L535.60 360.46L535.80 361.56L536.00 362.34L536.20 362.90L536.40 363.33L536.80 363.91L537.40 364.41L538.20 364.74L539.40 364.92L540.80 364.84L541.80 364.57L542.40 364.24L542.80 363.88L543.20 363.34L543.40 362.95L543.60 362.43L543.80 361.74L544.00 360.76L544.20 359.35L544.40 357.21L544.60 353.88L544.80 348.79L545.00 342.37L545.20 338.50L545.40 340.93L545.60 345.74L545.80 348.81L546.00 349.39L546.20 347.47L546.40 342.60L546.60 333.97L546.80 322.62L547.00 316.50L547.20 323.28L547.40 335.38L547.60 344.96L547.80 351.14L548.00 355.02L548.20 357.51L548.40 359.16L548.60 360.28L548.80 361.06L549.00 361.59L549.20 361.95L549.40 362.16L549.60 362.25L549.80 362.21L550.00 362.04L550.20 361.71L550.40 361.17L550.60 360.34L550.80 359.14L551.00 357.51L551.20 355.65L551.40 354.24L551.60 354.15L551.80 355.38L552.00 357.02L552.20 358.36L552.40 359.19L552.60 359.50L552.80 359.32L553.00 358.64L553.40 356.45L553.60 356.00L553.80 356.68L554.20 359.43L554.40 360.46L554.60 361.12L554.80 361.45L555.00 361.47L555.20 361.18L555.40 360.58L555.80 358.83L556.00 358.50L556.20 359.06L556.60 361.31L556.80 362.23L557.00 362.91L557.20 363.39L557.40 363.73L557.80 364.16L558.40 364.42L559.00 364.39L559.40 364.21L559.80 363.85L560.20 363.25L560.60 362.45L560.80 362.13L561.00 362.00L561.20 362.11L561.60 362.78L562.00 363.44L562.40 363.82L562.80 363.91L563.20 363.75L563.60 363.30L564.20 362.23L564.40 362.02L564.60 362.04L564.80 362.29L565.40 363.51L565.80 364.10L566.20 364.46L566.80 364.73L567.60 364.82L568.40 364.66L569.00 364.32L569.40 363.89L569.60 363.56L569.80 363.12L570.00 362.52L570.20 361.69L570.40 360.52L570.60 358.94L571.00 355.07L571.20 354.20L571.40 354.96L571.80 358.59L572.00 360.04L572.20 361.05L572.40 361.70L572.60 362.08L572.80 362.24L573.00 362.22L573.20 362.00L573.40 361.56L573.60 360.84L573.80 359.77L574.00 358.24L574.40 354.41L574.60 353.50L574.80 354.16L575.20 357.38L575.40 358.48L575.60 358.98L575.80 358.90L576.00 358.23L576.20 357.00L576.40 355.44L576.60 354.30L576.80 354.50L577.00 356.05L577.20 358.07L577.40 359.85L577.60 361.21L577.80 362.20L578.00 362.91L578.20 363.44L578.40 363.84L578.80 364.38L579.40 364.84L580.40 365.22L582.20 365.50L586.60 365.67L592.20 365.60L594.40 365.38L595.60 365.07L596.40 364.63L596.80 364.26L597.20 363.68L597.40 363.28L597.60 362.77L597.80 362.11L598.00 361.25L598.20 360.13L598.40 358.72L598.60 357.02L598.80 355.20L599.00 353.70L599.20 353.10L599.40 353.70L599.60 355.20L599.80 357.02L600.00 358.72L600.20 360.13L600.40 361.25L600.60 362.11L600.80 362.77L601.00 363.29L601.20 363.69L601.60 364.26L602.20 364.78L603.00 365.15L604.40 365.46L607.40 365.65L610.80 365.59L612.20 365.37L613.00 365.02L613.60 364.52L614.20 363.92L614.40 363.81L614.60 363.81L615.00 364.10L615.80 364.90L616.40 365.26L617.40 365.54L619.80 365.74L631.60 365.84L643.40 365.75L646.20 365.54L647.40 365.22L648.00 364.86L648.40 364.43L648.60 364.10L648.80 363.66L649.00 363.02L649.20 362.09L649.40 360.67L649.60 358.43L649.80 354.87L650.00 349.71L650.20 344.74L650.40 344.74L650.60 349.71L650.80 354.87L651.00 358.43L651.20 360.66L651.40 362.08L651.60 363.01L651.80 363.64L652.00 364.08L652.20 364.41L652.60 364.83L653.20 365.18L654.40 365.48L656.60 365.59L658.40 365.47L659.40 365.18L660.00 364.76L660.80 363.89L661.00 363.80L661.20 363.85L662.00 364.53L662.40 364.70L662.80 364.70L663.20 364.51L663.40 364.33L663.60 364.05L663.80 363.63L664.00 363.00L664.20 362.00L664.40 360.41L664.60 357.95L664.80 354.83L665.00 353.10L665.20 354.72L665.40 357.71L665.60 360.04L665.80 361.45L666.00 362.23L666.20 362.56L666.40 362.55L666.60 362.19L666.80 361.38L667.00 359.90L667.20 357.48L667.40 354.38L667.60 352.70L667.80 354.51L668.00 357.76L668.20 360.34L668.40 362.02L668.60 363.07L668.80 363.76L669.00 364.22L669.20 364.55L669.60 364.96L670.20 365.29L671.40 365.57L674.40 365.77L685.00 365.87" fill="none" stroke="#1c8fbe" stroke-width="1.30" stroke-linejoin="round"/>
<path d="M11.00 437.39L39.40 437.29L44.60 437.10L46.80 436.81L48.00 436.44L48.80 435.98L49.40 435.40L49.80 434.81L50.20 433.97L50.40 433.42L50.60 432.77L50.80 432.00L51.00 431.12L51.40 429.16L51.60 428.26L51.80 427.63L52.00 427.40L52.20 427.63L52.40 428.26L52.60 429.15L53.00 431.11L53.20 431.99L53.40 432.76L53.60 433.42L53.80 433.96L54.20 434.80L54.60 435.39L55.20 435.97L56.00 436.43L57.20 436.79L59.40 437.06L62.40 437.12L63.80 436.99L64.60 436.72L65.20 436.26L65.80 435.66L66.00 435.60L66.20 435.67L67.20 436.62L67.80 436.93L69.00 437.17L72.80 437.32L125.20 437.40" fill="none" stroke="#c12fb2" stroke-width="1.30" stroke-linejoin="round"/>
<path d="M137.20 437.40L193.20 437.34L195.80 437.19L196.60 436.97L197.00 436.73L197.40 436.31L197.80 435.80L198.00 435.70L198.20 435.80L198.80 436.54L199.20 436.86L200.00 437.14L202.00 437.30L207.80 437.26L210.20 437.05L211.20 436.78L211.80 436.41L212.20 435.95L212.40 435.60L212.60 435.10L212.80 434.36L213.00 433.22L213.20 431.39L213.40 428.25L213.60 422.82L213.80 414.74L214.00 409.60L214.20 414.74L214.40 422.82L214.60 428.25L214.80 431.39L215.00 433.22L215.20 434.36L215.40 435.10L215.60 435.60L215.80 435.95L216.20 436.41L216.80 436.78L218.00 437.09L220.80 437.28L231.80 437.33L236.40 437.20L238.00 436.97L238.80 436.65L239.20 436.34L239.40 436.10L239.60 435.78L239.80 435.33L240.00 434.66L240.20 433.64L240.40 431.99L240.60 429.17L240.80 424.29L241.00 417.02L241.20 412.40L241.40 417.02L241.60 424.29L241.80 429.17L242.00 431.99L242.20 433.65L242.40 434.67L242.60 435.33L242.80 435.78L243.00 436.10L243.40 436.51L244.00 436.84L245.20 437.12L248.20 437.31L254.20 437.37" fill="none" stroke="#c12fb2" stroke-width="1.30" stroke-linejoin="round"/>
<path d="M266.50 437.31L270.70 437.13L272.10 436.90L272.90 436.58L273.50 436.10L273.70 435.84L273.90 435.48L274.10 435.00L274.30 434.32L274.50 433.32L274.70 431.80L274.90 429.40L275.10 425.58L275.30 420.04L275.50 414.71L275.70 414.71L275.90 420.03L276.10 425.57L276.30 429.39L276.50 431.79L276.70 433.31L276.90 434.31L277.10 434.99L277.30 435.47L277.50 435.81L277.90 436.27L278.50 436.65L279.50 436.94L281.50 437.11L284.30 437.06L285.90 436.80L286.70 436.45L287.10 436.12L287.30 435.87L287.50 435.54L287.70 435.09L287.90 434.45L288.10 433.52L288.30 432.09L288.50 429.83L288.70 426.25L288.90 421.05L289.10 416.05L289.30 416.05L289.50 421.04L289.70 426.24L289.90 429.82L290.10 432.07L290.30 433.49L290.50 434.43L290.70 435.06L290.90 435.50L291.10 435.83L291.50 436.25L292.10 436.58L293.10 436.78L294.10 436.72L294.70 436.54L295.30 436.11L295.70 435.60L296.10 434.95L296.30 434.70L296.50 434.60L296.70 434.71L297.10 435.31L297.50 435.93L297.90 436.36L298.50 436.73L299.50 436.99L301.70 437.13L304.50 437.02L305.70 436.79L306.30 436.54L306.70 436.25L307.10 435.74L307.30 435.33L307.50 434.74L307.70 433.85L307.90 432.47L308.10 430.28L308.30 426.99L308.50 423.27L308.70 422.13L308.90 424.90L309.10 428.50L309.30 431.09L309.50 432.67L309.70 433.56L309.90 434.02L310.10 434.17L310.30 434.02L310.50 433.56L310.70 432.67L310.90 431.09L311.10 428.50L311.30 424.90L311.50 422.13L311.70 423.27L311.90 426.99L312.10 430.28L312.30 432.47L312.50 433.85L312.70 434.74L312.90 435.33L313.10 435.74L313.50 436.25L314.10 436.65L315.10 436.94L317.30 437.14L321.70 437.14L324.10 436.93L325.10 436.67L325.70 436.34L326.10 435.95L326.30 435.65L326.50 435.24L326.70 434.67L326.90 433.83L327.10 432.54L327.30 430.51L327.50 427.32L327.70 422.96L327.90 419.59L328.10 420.78L328.30 424.98L328.50 428.68L328.70 431.06L328.90 432.46L329.10 433.23L329.30 433.57L329.50 433.57L329.70 433.23L329.90 432.46L330.10 431.06L330.30 428.68L330.50 424.98L330.70 420.78L330.90 419.59L331.10 422.95L331.30 427.30L331.50 430.48L331.70 432.51L331.90 433.79L332.10 434.63L332.30 435.20L332.50 435.60L332.90 436.11L333.50 436.51L334.50 436.79L336.10 436.87L337.50 436.68L338.30 436.35L338.70 436.01L338.90 435.76L339.10 435.42L339.30 434.95L339.50 434.26L339.70 433.23L339.90 431.62L340.10 429.06L340.30 425.22L340.50 420.88L340.70 419.56L340.90 422.79L341.10 427.00L341.30 430.02L341.50 431.86L341.70 432.91L341.90 433.45L342.10 433.62L342.30 433.45L342.50 432.92L342.70 431.87L342.90 430.03L343.10 427.00L343.30 422.79L343.50 419.56L343.70 420.89L343.90 425.23L344.10 429.09L344.30 431.65L344.50 433.27L344.70 434.31L344.90 435.00L345.10 435.48L345.30 435.83L345.70 436.28L346.30 436.65L347.50 436.98L350.10 437.20L358.10 437.29L363.50 437.16L365.50 436.92L366.50 436.58L367.10 436.13L367.50 435.57L367.70 435.13L367.90 434.51L368.10 433.60L368.30 432.21L368.50 430.01L368.70 426.56L368.90 421.85L369.10 418.20L369.30 419.50L369.50 424.04L369.70 428.04L369.90 430.62L370.10 432.13L370.30 432.96L370.50 433.33L370.70 433.33L370.90 432.96L371.10 432.13L371.30 430.62L371.50 428.04L371.70 424.04L371.90 419.50L372.10 418.20L372.30 421.85L372.50 426.56L372.70 430.01L372.90 432.21L373.10 433.60L373.30 434.51L373.50 435.14L373.70 435.57L374.10 436.14L374.70 436.58L375.70 436.93L377.70 437.18L383.90 437.33L405.90 437.39" fill="none" stroke="#c12fb2" stroke-width="1.30" stroke-linejoin="round"/>
<path d="M419.00 437.33L430.20 437.19L433.00 436.99L434.20 436.72L434.80 436.42L435.20 436.06L435.40 435.79L435.60 435.42L435.80 434.89L436.00 434.10L436.20 432.89L436.40 430.97L436.60 428.01L436.80 424.27L437.00 422.20L437.20 424.17L437.40 427.81L437.60 430.66L437.80 432.46L438.00 433.52L438.20 434.13L438.40 434.44L438.60 434.52L438.80 434.39L439.00 434.03L439.20 433.35L439.40 432.19L439.60 430.26L439.80 427.20L440.00 423.31L440.20 421.20L440.40 423.39L440.60 427.35L440.80 430.50L441.00 432.53L441.20 433.80L441.40 434.62L441.60 435.17L441.80 435.56L442.20 436.03L442.80 436.38L443.80 436.59L445.20 436.55L446.20 436.32L446.80 436.04L447.20 435.72L447.60 435.22L447.80 434.85L448.00 434.35L448.20 433.65L448.40 432.64L448.60 431.13L448.80 428.77L449.00 425.05L449.20 419.67L449.40 414.46L449.60 414.23L449.80 418.95L450.00 423.76L450.20 426.78L450.40 428.20L450.60 428.36L450.80 427.31L451.00 424.80L451.40 416.64L451.60 416.81L451.80 421.22L452.00 425.74L452.20 428.81L452.40 430.67L452.60 431.74L452.80 432.31L453.00 432.50L453.20 432.35L453.40 431.82L453.60 430.77L453.80 428.92L454.00 425.96L454.20 422.15L454.40 420.00L454.60 421.90L454.80 425.43L455.00 428.05L455.20 429.43L455.40 429.80L455.60 429.27L455.80 427.71L456.00 424.87L456.20 421.08L456.40 419.00L456.60 421.17L456.80 425.07L457.00 428.08L457.20 429.91L457.40 430.92L457.60 431.38L457.80 431.45L458.00 431.19L458.20 430.60L458.40 429.62L458.60 428.12L458.80 425.83L459.00 422.32L459.20 416.78L459.40 407.89L459.60 394.05L459.80 376.55L460.00 367.00L460.20 376.62L460.40 394.18L460.60 408.10L460.80 417.08L461.00 422.71L461.20 426.33L461.40 428.75L461.60 430.42L461.80 431.62L462.00 432.49L462.20 433.15L462.40 433.65L462.60 434.03L463.00 434.54L463.40 434.82L463.80 434.93L464.20 434.85L464.60 434.56L464.80 434.32L465.00 433.98L465.40 433.06L465.60 432.56L465.80 432.15L466.00 432.00L466.20 432.16L466.40 432.56L466.80 433.58L467.00 434.01L467.20 434.35L467.60 434.79L468.00 434.99L468.60 434.96L469.00 434.74L469.40 434.33L469.60 434.01L469.80 433.60L470.00 433.05L470.20 432.31L470.40 431.28L470.60 429.80L470.80 427.62L471.00 424.26L471.20 418.94L471.40 410.74L471.60 400.40L471.80 394.60L472.00 399.80L472.20 409.49L472.40 416.95L472.60 421.35L472.80 423.50L473.00 424.00L473.20 422.98L473.40 420.17L473.60 415.08L473.80 408.31L474.00 404.50L474.20 408.15L474.40 414.78L474.60 419.75L474.80 422.48L475.00 423.53L475.20 423.26L475.40 421.75L475.60 418.72L475.80 413.52L476.00 404.85L476.20 390.75L476.40 370.06L476.60 350.14L476.80 350.30L477.00 370.55L477.20 391.59L477.40 406.10L477.60 415.24L477.80 421.05L478.00 424.86L478.20 427.47L478.40 429.31L478.60 430.65L478.80 431.66L479.00 432.42L479.20 433.01L479.40 433.46L479.60 433.82L480.00 434.31L480.40 434.56L480.80 434.58L481.00 434.50L481.20 434.33L481.40 434.04L481.60 433.60L481.80 432.90L482.00 431.82L482.20 430.08L482.40 427.27L482.60 422.88L482.80 417.32L483.00 414.30L483.20 417.41L483.40 423.05L483.60 427.53L483.80 430.42L484.00 432.25L484.20 433.43L484.40 434.23L484.60 434.79L484.80 435.19L485.20 435.73L485.80 436.18L486.80 436.54L488.60 436.78L491.20 436.81L492.80 436.62L493.60 436.35L494.20 435.93L494.60 435.41L494.80 435.01L495.00 434.46L495.20 433.67L495.40 432.48L495.60 430.64L495.80 427.71L496.00 423.17L496.20 417.44L496.40 414.30L496.60 417.41L496.80 423.11L497.00 427.62L497.20 430.52L497.40 432.32L497.60 433.47L497.80 434.23L498.00 434.73L498.20 435.08L498.40 435.31L498.80 435.55L499.20 435.57L499.60 435.37L499.80 435.17L500.00 434.88L500.20 434.45L500.40 433.82L500.60 432.88L500.80 431.42L501.00 429.11L501.20 425.41L501.40 420.04L501.60 414.88L501.80 414.88L502.00 420.05L502.20 425.42L502.40 429.12L502.60 431.44L502.80 432.90L503.00 433.84L503.20 434.48L503.40 434.91L503.60 435.21L504.00 435.55L504.40 435.66L504.80 435.59L505.20 435.30L505.40 435.04L505.60 434.66L505.80 434.11L506.00 433.30L506.20 432.06L506.40 430.11L506.60 427.00L506.80 422.16L507.00 416.04L507.20 412.70L507.40 416.07L507.60 422.22L507.80 427.09L508.00 430.24L508.20 432.21L508.40 433.49L508.60 434.34L508.80 434.94L509.00 435.37L509.40 435.92L510.00 436.38L511.00 436.73L513.00 436.96L516.20 436.98L518.00 436.80L519.00 436.50L519.60 436.14L520.20 435.52L520.60 435.04L520.80 434.87L521.00 434.80L521.20 434.85L521.60 435.22L522.20 435.86L522.80 436.25L523.60 436.48L524.80 436.49L526.00 436.24L526.80 435.86L527.40 435.34L527.80 434.79L528.00 434.42L528.20 433.94L528.40 433.32L528.60 432.51L528.80 431.40L529.00 429.86L529.20 427.62L529.40 424.24L529.60 418.96L529.80 410.63L530.00 398.58L530.20 386.88L530.40 386.30L530.60 396.76L530.80 407.32L531.00 413.66L531.20 416.06L531.40 415.00L531.60 410.49L531.80 403.57L532.00 400.00L532.20 405.24L532.40 414.05L532.60 420.99L532.80 425.47L533.00 428.25L533.20 429.97L533.40 430.99L533.60 431.46L533.80 431.41L534.00 430.76L534.40 428.14L534.60 428.40L535.00 432.13L535.20 433.46L535.40 434.32L535.60 434.89L535.80 435.29L536.20 435.79L536.80 436.20L537.80 436.52L539.60 436.71L541.80 436.64L543.20 436.36L544.00 436.00L544.60 435.47L545.00 434.85L545.20 434.40L545.40 433.79L545.60 432.96L545.80 431.76L546.00 429.98L546.20 427.24L546.40 422.89L546.60 416.17L546.80 407.69L547.00 403.00L547.20 407.48L547.40 415.75L547.60 422.24L547.80 426.33L548.00 428.77L548.20 430.16L548.40 430.88L548.60 431.08L548.80 430.81L549.00 430.00L549.20 428.45L549.40 425.76L549.60 421.31L549.80 414.74L550.00 408.38L550.20 408.39L550.40 414.78L550.60 421.39L550.80 425.89L551.00 428.62L551.20 430.22L551.40 431.11L551.60 431.48L551.80 431.44L552.00 430.98L552.20 430.05L552.40 428.60L552.80 424.78L553.00 424.00L553.20 424.99L553.60 429.27L553.80 431.02L554.00 432.29L554.20 433.20L554.40 433.84L554.60 434.29L554.80 434.61L555.20 434.97L555.60 435.07L556.00 434.94L556.40 434.55L556.60 434.23L556.80 433.80L557.00 433.23L557.20 432.53L557.60 430.89L557.80 430.24L558.00 430.00L558.20 430.27L558.40 430.95L558.80 432.67L559.00 433.41L559.20 434.01L559.40 434.49L559.60 434.86L560.00 435.37L560.40 435.67L561.00 435.84L561.60 435.74L562.00 435.48L562.40 434.99L562.80 434.20L563.20 433.30L563.40 433.03L563.60 433.04L563.80 433.33L564.40 434.74L564.80 435.42L565.20 435.85L565.80 436.19L566.60 436.34L567.40 436.26L568.00 436.03L568.40 435.74L568.80 435.25L569.00 434.87L569.20 434.36L569.40 433.65L569.60 432.66L569.80 431.29L570.00 429.49L570.20 427.45L570.40 425.94L570.60 425.90L570.80 427.35L571.00 429.31L571.20 431.03L571.40 432.32L571.60 433.21L571.80 433.81L572.00 434.19L572.20 434.42L572.40 434.51L572.60 434.49L572.80 434.36L573.00 434.10L573.20 433.68L573.40 433.06L573.60 432.16L573.80 430.86L574.00 429.08L574.40 424.66L574.60 423.60L574.80 424.34L575.20 428.01L575.40 429.28L575.60 429.89L575.80 429.86L576.00 429.19L576.20 427.92L576.40 426.29L576.60 425.10L576.80 425.32L577.00 426.97L577.20 429.11L577.40 430.99L577.60 432.43L577.80 433.48L578.00 434.24L578.20 434.80L578.40 435.22L578.80 435.79L579.40 436.28L580.40 436.69L582.20 436.98L586.40 437.16L592.00 437.10L594.40 436.88L595.60 436.57L596.40 436.14L596.80 435.76L597.20 435.20L597.40 434.80L597.60 434.29L597.80 433.63L598.00 432.78L598.20 431.67L598.40 430.27L598.60 428.58L598.80 426.78L599.00 425.29L599.20 424.70L599.40 425.29L599.60 426.78L599.80 428.59L600.00 430.27L600.20 431.68L600.40 432.78L600.60 433.63L600.80 434.29L601.00 434.80L601.20 435.20L601.60 435.77L602.20 436.28L603.00 436.65L604.40 436.95L607.40 437.14L610.60 437.06L612.00 436.83L612.80 436.47L613.40 435.94L614.20 434.95L614.40 434.82L614.60 434.82L614.80 434.95L615.80 436.17L616.40 436.61L617.40 436.97L619.40 437.20L626.80 437.33L643.20 437.27L646.60 437.10L648.00 436.84L648.80 436.47L649.20 436.12L649.40 435.86L649.60 435.52L649.80 435.05L650.00 434.39L650.20 433.42L650.40 431.93L650.60 429.59L650.80 425.87L651.00 420.47L651.20 415.28L651.40 415.28L651.60 420.47L651.80 425.87L652.00 429.58L652.20 431.92L652.40 433.40L652.60 434.37L652.80 435.03L653.00 435.50L653.20 435.84L653.60 436.28L654.20 436.65L655.20 436.92L657.20 437.06L659.20 436.93L660.20 436.64L660.80 436.23L661.20 435.75L661.80 434.91L662.00 434.80L662.20 434.87L663.00 435.80L663.40 436.07L663.80 436.15L664.20 436.05L664.60 435.72L664.80 435.43L665.00 434.98L665.20 434.29L665.40 433.22L665.60 431.50L665.80 428.83L666.00 425.46L666.20 423.60L666.40 425.40L666.60 428.70L666.80 431.29L667.00 432.92L667.20 433.89L667.40 434.43L667.60 434.69L667.80 434.74L668.00 434.58L668.20 434.17L668.40 433.41L668.60 432.11L668.80 429.95L669.00 426.77L669.20 423.71L669.40 423.75L669.60 426.91L669.80 430.19L670.00 432.45L670.20 433.88L670.40 434.79L670.60 435.40L670.80 435.81L671.20 436.32L671.80 436.72L672.80 437.01L675.20 437.23L684.80 437.36L685.00 437.36" fill="none" stroke="#c12fb2" stroke-width="1.30" stroke-linejoin="round"/>
<path d="M11.00 509.69L34.20 509.59L38.60 509.40L40.40 509.14L41.40 508.82L42.20 508.32L42.60 507.91L43.00 507.31L43.20 506.90L43.40 506.39L43.60 505.77L43.80 505.00L44.00 504.06L44.20 502.96L44.60 500.60L44.80 499.73L45.00 499.40L45.20 499.73L45.40 500.60L45.80 502.96L46.00 504.06L46.20 504.99L46.40 505.77L46.60 506.39L46.80 506.90L47.20 507.64L47.60 508.13L48.20 508.61L49.20 509.03L50.80 509.33L54.20 509.53L57.00 509.49L58.00 509.31L59.00 509.00L60.60 509.47L63.00 509.62L106.20 509.70L125.20 509.70" fill="none" stroke="#9a982e" stroke-width="1.30" stroke-linejoin="round"/>
<path d="M137.20 509.70L189.60 509.64L191.80 509.51L192.60 509.32L193.20 508.94L193.80 508.29L194.00 508.20L194.20 508.29L194.80 508.94L195.40 509.31L196.40 509.53L200.00 509.63L204.80 509.51L206.40 509.26L207.00 509.02L207.40 508.72L207.60 508.49L207.80 508.17L208.00 507.72L208.20 507.03L208.40 505.95L208.60 504.16L208.80 501.05L209.00 495.86L209.20 489.92L209.40 489.92L209.60 495.86L209.80 501.05L210.00 504.16L210.20 505.96L210.40 507.03L210.60 507.72L210.80 508.17L211.00 508.49L211.40 508.89L212.00 509.20L213.20 509.45L216.60 509.62L230.40 509.63L233.80 509.48L235.00 509.26L235.60 508.99L236.00 508.64L236.20 508.37L236.40 507.97L236.60 507.37L236.80 506.44L237.00 504.87L237.20 502.16L237.40 497.64L237.60 492.48L237.80 492.48L238.00 497.64L238.20 502.16L238.40 504.87L238.60 506.43L238.80 507.37L239.00 507.97L239.20 508.36L239.60 508.84L240.20 509.19L241.40 509.45L244.60 509.60L248.40 509.54L249.60 509.35L250.20 509.07L250.60 508.67L250.80 508.34L251.20 507.42L251.40 507.05L251.60 507.05L251.80 507.42L252.20 508.34L252.40 508.67L252.80 509.08L253.40 509.36L254.20 509.52" fill="none" stroke="#9a982e" stroke-width="1.30" stroke-linejoin="round"/>
<path d="M266.50 509.62L270.30 509.45L271.70 509.20L272.50 508.83L272.90 508.47L273.10 508.19L273.30 507.81L273.50 507.27L273.70 506.48L273.90 505.27L274.10 503.36L274.30 500.34L274.50 495.94L274.70 491.72L274.90 491.72L275.10 495.94L275.30 500.33L275.50 503.36L275.70 505.26L275.90 506.47L276.10 507.26L276.30 507.80L276.50 508.18L276.90 508.66L277.50 509.04L278.50 509.32L280.70 509.50L284.50 509.47L286.30 509.27L287.10 509.03L287.70 508.65L288.10 508.14L288.30 507.74L288.50 507.16L288.70 506.30L288.90 504.95L289.10 502.81L289.30 499.49L289.50 495.29L289.70 493.00L289.90 495.29L290.10 499.47L290.30 502.79L290.50 504.93L290.70 506.27L290.90 507.13L291.10 507.70L291.30 508.09L291.70 508.58L292.30 508.93L293.10 509.10L294.10 509.07L294.70 508.89L295.30 508.47L295.70 507.98L296.10 507.34L296.30 507.09L296.50 507.00L296.70 507.10L297.10 507.68L297.50 508.29L297.90 508.70L298.50 509.06L299.50 509.30L301.30 509.38L302.70 509.22L303.30 509.00L303.70 508.70L303.90 508.44L304.10 508.06L304.30 507.48L304.50 506.55L304.70 505.12L304.90 503.31L305.10 502.30L305.30 503.22L305.50 504.93L305.70 506.25L305.90 507.03L306.10 507.43L306.30 507.55L306.50 507.43L306.70 507.03L306.90 506.25L307.10 504.93L307.30 503.22L307.50 502.30L307.70 503.32L307.90 505.13L308.10 506.57L308.30 507.50L308.50 508.09L308.70 508.47L309.10 508.91L309.70 509.22L310.90 509.45L314.70 509.60L322.30 509.53L324.50 509.34L325.50 509.05L325.90 508.79L326.30 508.32L326.50 507.92L326.70 507.33L326.90 506.40L327.10 504.94L327.30 502.73L327.50 500.25L327.70 499.49L327.90 501.34L328.10 503.74L328.30 505.47L328.50 506.52L328.70 507.12L328.90 507.43L329.10 507.52L329.30 507.43L329.50 507.12L329.70 506.52L329.90 505.47L330.10 503.74L330.30 501.34L330.50 499.49L330.70 500.25L330.90 502.72L331.10 504.91L331.30 506.37L331.50 507.29L331.70 507.87L331.90 508.26L332.30 508.73L332.90 509.05L333.90 509.24L335.30 509.22L336.10 509.05L336.70 508.73L337.10 508.27L337.30 507.88L337.50 507.29L337.70 506.37L337.90 504.92L338.10 502.72L338.30 500.25L338.50 499.49L338.70 501.34L338.90 503.74L339.10 505.47L339.30 506.52L339.50 507.12L339.70 507.43L339.90 507.53L340.10 507.43L340.30 507.13L340.50 506.53L340.70 505.48L340.90 503.75L341.10 501.34L341.30 499.49L341.50 500.25L341.70 502.74L341.90 504.94L342.10 506.41L342.30 507.33L342.50 507.92L342.70 508.32L343.10 508.79L343.70 509.14L344.90 509.41L348.10 509.59L360.10 509.61L363.90 509.46L365.30 509.20L365.90 508.93L366.30 508.60L366.50 508.33L366.70 507.96L366.90 507.41L367.10 506.57L367.30 505.24L367.50 503.16L367.70 500.32L367.90 498.12L368.10 498.90L368.30 501.64L368.50 504.06L368.70 505.61L368.90 506.52L369.10 507.02L369.30 507.25L369.50 507.25L369.70 507.03L369.90 506.52L370.10 505.61L370.30 504.06L370.50 501.64L370.70 498.90L370.90 498.12L371.10 500.32L371.30 503.17L371.50 505.25L371.70 506.57L371.90 507.41L372.10 507.96L372.30 508.33L372.70 508.79L373.30 509.14L374.50 509.42L377.70 509.60L400.50 509.69L405.90 509.69" fill="none" stroke="#9a982e" stroke-width="1.30" stroke-linejoin="round"/>
<path d="M419.00 509.64L429.20 509.52L431.40 509.34L432.40 509.08L433.00 508.70L433.20 508.48L433.40 508.17L433.60 507.72L433.80 507.03L434.00 505.96L434.20 504.25L434.40 501.79L434.60 499.41L434.80 499.39L435.00 501.72L435.20 504.14L435.40 505.79L435.60 506.80L435.80 507.42L436.00 507.79L436.20 508.00L436.40 508.10L436.60 508.10L436.80 508.00L437.00 507.78L437.20 507.41L437.40 506.80L437.60 505.78L437.80 504.13L438.00 501.72L438.20 499.39L438.40 499.41L438.60 501.77L438.80 504.23L439.00 505.93L439.20 506.99L439.40 507.67L439.60 508.12L439.80 508.42L440.20 508.80L440.80 509.08L442.20 509.31L445.40 509.35L448.40 509.15L450.00 508.81L450.80 508.45L451.40 507.93L451.60 507.66L451.80 507.30L452.00 506.83L452.20 506.16L452.40 505.19L452.60 503.73L452.80 501.45L453.00 497.96L453.20 493.57L453.40 491.00L453.60 492.90L453.80 496.57L454.00 499.18L454.20 500.34L454.40 500.25L454.60 498.93L454.80 496.06L455.00 491.16L455.20 484.76L455.40 481.20L455.60 484.66L455.80 490.97L456.00 495.77L456.20 498.55L456.40 499.77L456.60 499.76L456.80 498.52L457.00 495.82L457.20 492.08L457.40 490.00L457.60 492.18L457.80 496.05L458.00 498.93L458.20 500.49L458.40 501.04L458.60 500.78L458.80 499.71L459.00 497.61L459.20 493.99L459.40 487.94L459.60 478.38L459.80 466.21L460.00 459.60L460.20 466.42L460.40 478.80L460.60 488.61L460.80 494.94L461.00 498.92L461.20 501.49L461.40 503.20L461.60 504.39L461.80 505.24L462.00 505.85L462.20 506.31L462.40 506.66L462.80 507.11L463.20 507.34L463.80 507.37L464.20 507.19L464.60 506.77L464.80 506.44L465.00 506.02L465.20 505.50L465.60 504.25L465.80 503.74L466.00 503.50L466.20 503.61L466.40 503.98L466.80 504.89L467.00 505.20L467.20 505.37L467.40 505.38L467.60 505.24L467.80 504.97L468.20 504.25L468.40 504.03L468.60 504.04L468.80 504.30L469.20 505.12L469.40 505.47L469.60 505.70L469.80 505.81L470.00 505.81L470.20 505.67L470.40 505.38L470.60 504.91L470.80 504.18L471.00 503.08L471.20 501.41L471.40 498.78L471.60 494.60L471.80 488.13L472.00 479.94L472.20 475.30L472.40 479.29L472.60 486.75L472.80 492.32L473.00 495.27L473.20 496.11L473.40 495.03L473.60 491.95L473.80 487.44L474.00 485.00L474.20 487.99L474.40 493.16L474.60 497.13L474.80 499.51L475.00 500.77L475.20 501.26L475.40 501.14L475.60 500.46L475.80 499.14L476.00 496.93L476.20 493.41L476.40 487.73L476.60 478.53L476.80 464.14L477.00 445.93L477.20 436.00L477.40 446.10L477.60 464.49L477.80 479.06L478.00 488.47L478.20 494.39L478.40 498.21L478.60 500.76L478.80 502.54L479.00 503.82L479.20 504.77L479.40 505.48L479.60 506.04L479.80 506.47L480.20 507.10L480.60 507.50L481.20 507.84L481.80 507.94L482.20 507.86L482.60 507.59L482.80 507.34L483.00 506.97L483.20 506.42L483.40 505.56L483.60 504.21L483.80 502.03L484.00 498.63L484.20 494.34L484.40 492.00L484.60 494.39L484.80 498.73L485.00 502.17L485.20 504.40L485.40 505.80L485.60 506.71L485.80 507.32L486.00 507.75L486.40 508.29L487.00 508.71L488.00 509.04L490.00 509.27L494.00 509.32L496.20 509.16L497.40 508.86L498.00 508.51L498.40 508.06L498.60 507.72L498.80 507.24L499.00 506.54L499.20 505.47L499.40 503.80L499.60 501.16L499.80 497.33L500.00 493.64L500.20 493.60L500.40 497.20L500.60 500.95L500.80 503.50L501.00 505.06L501.20 506.00L501.40 506.55L501.60 506.86L501.80 506.97L502.00 506.93L502.20 506.73L502.40 506.32L502.60 505.64L502.80 504.53L503.00 502.72L503.20 499.80L503.40 495.52L503.60 491.40L503.80 491.40L504.00 495.51L504.20 499.77L504.40 502.69L504.60 504.48L504.80 505.58L505.00 506.24L505.20 506.61L505.40 506.77L505.60 506.76L505.80 506.55L506.00 506.12L506.20 505.36L506.40 504.07L506.60 501.95L506.80 498.59L507.00 494.32L507.20 492.00L507.40 494.41L507.60 498.77L507.80 502.23L508.00 504.47L508.20 505.88L508.40 506.80L508.60 507.41L508.80 507.84L509.20 508.39L509.80 508.82L510.80 509.14L513.00 509.38L518.40 509.45L522.40 509.28L524.20 509.01L525.20 508.65L525.80 508.24L526.20 507.79L526.40 507.46L526.60 507.04L526.80 506.47L527.00 505.68L527.20 504.55L527.40 502.86L527.60 500.23L527.80 496.10L528.00 490.15L528.20 484.34L528.40 483.89L528.80 493.53L529.00 496.13L529.20 496.55L529.40 494.86L529.60 490.87L529.80 485.24L530.00 482.20L530.20 485.80L530.40 492.09L530.60 496.92L530.80 499.83L531.00 501.29L531.20 501.66L531.40 500.97L531.60 499.10L531.80 496.38L532.00 495.00L532.20 497.03L532.40 500.45L532.60 503.16L532.80 504.93L533.00 506.07L533.20 506.83L533.40 507.35L533.60 507.73L534.00 508.22L534.60 508.62L535.60 508.93L537.20 509.08L539.00 508.97L540.00 508.70L540.60 508.36L541.00 507.96L541.20 507.66L541.40 507.26L541.60 506.71L541.80 505.92L542.00 504.75L542.20 502.95L542.40 500.08L542.60 495.66L542.80 490.09L543.00 487.00L543.20 489.92L543.40 495.31L543.60 499.53L543.80 502.17L544.00 503.70L544.20 504.53L544.40 504.87L544.60 504.82L544.80 504.36L545.00 503.39L545.20 501.67L545.40 498.76L545.60 494.12L545.80 488.21L546.00 485.00L546.20 488.33L546.40 494.36L546.60 499.14L546.80 502.21L547.00 504.14L547.20 505.36L547.40 506.16L547.60 506.70L547.80 507.06L548.00 507.28L548.20 507.41L548.40 507.46L548.60 507.42L548.80 507.30L549.00 507.06L549.20 506.67L549.40 506.05L549.60 505.08L549.80 503.54L550.00 501.04L550.20 497.14L550.40 492.19L550.60 489.50L550.80 492.25L551.00 497.25L551.20 501.22L551.40 503.78L551.60 505.40L551.80 506.44L552.00 507.14L552.20 507.63L552.40 507.99L552.80 508.45L553.40 508.83L554.40 509.14L556.60 509.36L560.80 509.40L563.20 509.23L564.40 508.96L565.00 508.66L565.40 508.33L565.80 507.78L566.00 507.36L566.20 506.79L566.40 505.99L566.60 504.90L566.80 503.46L567.00 501.84L567.20 500.61L567.40 500.53L567.60 501.58L567.80 503.01L568.00 504.24L568.20 505.08L568.40 505.56L568.60 505.73L568.80 505.62L569.00 505.20L569.20 504.44L569.40 503.26L569.80 500.23L570.00 499.60L570.20 500.36L570.60 503.66L570.80 505.01L571.00 506.00L571.20 506.69L571.40 507.19L571.60 507.53L572.00 507.95L572.40 508.11L572.80 508.08L573.20 507.84L573.40 507.61L573.60 507.28L573.80 506.81L574.00 506.12L574.20 505.15L574.40 503.80L574.80 500.51L575.00 499.80L575.20 500.54L575.60 503.91L575.80 505.29L576.00 506.31L576.20 507.04L576.40 507.57L576.60 507.95L577.00 508.46L577.60 508.88L578.60 509.21L580.80 509.45L587.40 509.57L593.80 509.46L596.00 509.22L597.00 508.93L597.60 508.59L598.00 508.22L598.40 507.63L598.60 507.20L598.80 506.65L599.00 505.94L599.20 505.03L599.40 503.89L599.80 501.33L600.00 500.51L600.20 500.51L600.40 501.32L600.80 503.89L601.00 505.02L601.20 505.94L601.40 506.65L601.60 507.20L601.80 507.62L602.20 508.21L602.80 508.72L603.60 509.07L605.20 509.35L608.40 509.48L611.00 509.37L612.20 509.13L613.00 508.72L613.60 508.14L614.20 507.44L614.40 507.32L614.60 507.32L614.80 507.44L615.80 508.57L616.40 508.98L617.40 509.31L619.40 509.53L627.40 509.65L645.40 509.59L648.40 509.43L649.60 509.18L650.20 508.90L650.60 508.57L650.80 508.31L651.00 507.97L651.20 507.47L651.40 506.75L651.60 505.65L651.80 503.91L652.00 501.14L652.20 497.12L652.40 493.26L652.60 493.26L652.80 497.12L653.00 501.13L653.20 503.90L653.40 505.64L653.60 506.75L653.80 507.47L654.00 507.96L654.20 508.31L654.60 508.75L655.20 509.10L656.40 509.39L659.20 509.55L663.60 509.50L665.20 509.32L666.00 509.05L666.40 508.76L666.60 508.53L666.80 508.21L667.00 507.73L667.20 506.98L667.40 505.80L667.60 503.98L667.80 501.67L668.00 500.40L668.20 501.61L668.40 503.85L668.60 505.60L668.80 506.70L669.00 507.34L669.20 507.69L669.40 507.85L669.60 507.85L669.80 507.69L670.00 507.34L670.20 506.70L670.40 505.60L670.60 503.85L670.80 501.61L671.00 500.40L671.20 501.68L671.40 503.98L671.60 505.81L671.80 506.99L672.00 507.73L672.20 508.22L672.40 508.54L672.80 508.94L673.40 509.23L674.80 509.48L679.20 509.64L685.00 509.67" fill="none" stroke="#9a982e" stroke-width="1.30" stroke-linejoin="round"/>
<path d="M11.00 581.15L21.80 581.00L25.20 580.76L26.80 580.45L27.80 580.08L28.40 579.70L29.00 579.09L29.40 578.47L29.60 578.06L29.80 577.55L30.00 576.91L30.20 576.11L30.40 575.09L30.60 573.76L30.80 572.05L31.00 569.83L31.20 567.01L31.40 563.61L31.60 559.99L31.80 557.00L32.00 555.80L32.20 556.99L32.40 559.99L32.60 563.61L32.80 567.00L33.00 569.82L33.20 572.04L33.40 573.76L33.60 575.08L33.80 576.10L34.00 576.90L34.20 577.54L34.40 578.05L34.80 578.80L35.20 579.31L35.80 579.82L36.80 580.29L38.20 580.61L40.20 580.75L41.60 580.63L42.40 580.32L42.80 580.00L43.20 579.44L43.80 578.33L44.00 578.20L44.20 578.34L44.80 579.48L45.20 580.05L45.60 580.40L46.40 580.75L48.00 580.98L53.80 581.13L125.20 581.20" fill="none" stroke="#1f8c74" stroke-width="1.30" stroke-linejoin="round"/>
<path d="M137.20 581.20L181.20 581.13L183.80 580.99L184.80 580.75L185.20 580.51L185.60 580.05L185.80 579.68L186.20 578.79L186.40 578.60L186.60 578.79L187.00 579.67L187.20 580.04L187.60 580.49L188.20 580.80L189.40 580.98L192.60 580.99L194.80 580.79L196.00 580.48L196.60 580.16L197.00 579.81L197.40 579.24L197.60 578.81L197.80 578.22L198.00 577.40L198.20 576.20L198.40 574.38L198.60 571.48L198.80 566.64L199.00 558.62L199.20 547.46L199.40 540.80L199.60 547.46L199.80 558.62L200.00 566.65L200.20 571.48L200.40 574.38L200.60 576.20L200.80 577.40L201.00 578.22L201.20 578.81L201.40 579.24L201.80 579.81L202.40 580.30L203.40 580.68L205.20 580.94L210.20 581.11L221.40 581.07L224.80 580.87L226.20 580.59L227.00 580.22L227.40 579.88L227.80 579.33L228.00 578.92L228.20 578.37L228.40 577.59L228.60 576.45L228.80 574.72L229.00 571.96L229.20 567.36L229.40 559.74L229.60 549.13L229.80 542.80L230.00 549.13L230.20 559.74L230.40 567.36L230.60 571.95L230.80 574.72L231.00 576.45L231.20 577.58L231.40 578.37L231.60 578.92L231.80 579.33L232.20 579.87L232.80 580.33L233.80 580.69L235.60 580.93L239.00 581.00L240.80 580.84L241.60 580.55L242.00 580.22L242.20 579.94L242.40 579.56L242.60 579.04L243.00 577.77L243.20 577.50L243.40 577.78L243.80 579.05L244.00 579.57L244.20 579.96L244.60 580.43L245.20 580.76L246.40 581.00L250.40 581.14L254.20 581.17" fill="none" stroke="#1f8c74" stroke-width="1.30" stroke-linejoin="round"/>
<path d="M266.50 580.79L269.10 580.53L270.30 580.23L271.10 579.82L271.50 579.48L271.90 578.96L272.10 578.59L272.30 578.11L272.50 577.47L272.70 576.60L272.90 575.39L273.10 573.63L273.30 571.01L273.50 567.01L273.70 560.98L273.90 552.85L274.10 545.67L274.30 545.66L274.50 552.84L274.70 560.96L274.90 567.00L275.10 570.99L275.30 573.60L275.50 575.35L275.70 576.56L275.90 577.43L276.10 578.06L276.30 578.53L276.70 579.18L277.10 579.59L277.70 579.97L278.70 580.29L280.70 580.52L284.30 580.53L287.10 580.30L288.50 579.97L289.30 579.60L289.90 579.08L290.30 578.51L290.50 578.11L290.70 577.58L290.90 576.87L291.10 575.89L291.30 574.50L291.50 572.47L291.70 569.41L291.90 564.73L292.10 557.93L292.30 550.04L292.50 546.00L292.70 549.99L292.90 557.83L293.10 564.58L293.30 569.20L293.50 572.21L293.70 574.18L293.90 575.50L294.10 576.41L294.30 577.05L294.50 577.50L294.70 577.81L295.10 578.16L295.50 578.25L295.90 578.11L296.30 577.73L296.50 577.44L296.70 577.06L296.90 576.58L297.10 575.99L297.50 574.53L297.70 573.76L297.90 573.12L298.10 572.74L298.30 572.76L298.50 573.16L298.70 573.84L299.10 575.45L299.30 576.18L299.50 576.82L299.70 577.34L300.10 578.14L300.50 578.67L301.10 579.18L301.90 579.55L303.30 579.84L305.90 579.94L310.30 579.72L314.70 579.21L318.10 578.55L320.90 577.75L323.30 576.77L325.50 575.58L327.70 574.08L330.90 571.68L332.30 570.87L333.30 570.51L334.30 570.40L335.30 570.55L336.50 571.03L338.10 572.05L341.70 574.67L343.70 575.88L345.90 576.90L348.30 577.68L350.90 578.22L353.70 578.49L356.10 578.44L357.90 578.17L359.50 577.65L360.70 577.01L361.70 576.24L362.70 575.19L363.90 573.59L364.90 572.23L365.50 571.61L365.90 571.37L366.30 571.30L366.70 571.41L367.30 571.88L367.90 572.63L369.70 575.26L370.70 576.46L371.70 577.38L372.90 578.20L374.50 578.94L376.50 579.52L379.50 580.02L384.30 580.43L393.30 580.76L405.90 580.94" fill="none" stroke="#1f8c74" stroke-width="1.30" stroke-linejoin="round"/>
<path d="M419.00 581.08L425.40 580.90L427.40 580.67L428.40 580.35L429.00 579.96L429.40 579.50L429.60 579.15L429.80 578.66L430.00 577.97L430.20 576.94L430.40 575.36L430.60 572.85L430.80 568.99L431.00 564.11L431.20 561.40L431.40 563.95L431.60 568.66L431.80 572.34L432.00 574.63L432.20 575.95L432.40 576.65L432.60 576.90L432.80 576.78L433.00 576.26L433.20 575.20L433.40 573.33L433.60 570.21L433.80 565.60L434.00 561.14L434.20 561.21L434.40 565.82L434.60 570.60L434.80 573.90L435.00 575.98L435.20 577.31L435.40 578.19L435.60 578.79L435.80 579.22L436.20 579.77L436.80 580.21L437.80 580.55L439.80 580.76L444.20 580.78L447.80 580.55L449.60 580.21L450.60 579.80L451.20 579.31L451.60 578.75L451.80 578.33L452.00 577.77L452.20 576.98L452.40 575.81L452.60 574.02L452.80 571.21L453.00 566.89L453.20 561.44L453.40 558.40L453.60 561.18L453.80 566.35L454.00 570.38L454.20 572.87L454.40 574.28L454.60 575.00L454.80 575.25L455.00 575.11L455.20 574.58L455.40 573.55L455.60 571.81L455.80 568.95L456.00 564.47L456.20 558.79L456.40 555.50L456.60 558.10L456.80 563.07L457.00 566.75L457.20 568.69L457.40 569.31L457.60 568.91L457.80 567.56L458.00 565.10L458.20 561.08L458.40 554.65L458.60 544.28L458.80 527.62L459.00 503.33L459.20 479.95L459.40 480.02L459.60 503.53L459.80 527.96L460.00 544.79L460.20 555.38L460.40 562.08L460.60 566.46L460.80 569.43L461.00 571.51L461.20 573.00L461.40 574.10L461.60 574.92L461.80 575.53L462.00 575.99L462.20 576.32L462.40 576.55L462.60 576.70L463.00 576.75L463.20 576.65L463.40 576.47L463.60 576.17L463.80 575.74L464.00 575.13L464.20 574.26L464.40 573.02L464.60 571.22L464.80 568.52L465.00 564.31L465.20 557.63L465.40 547.28L465.60 534.22L465.80 526.90L466.00 533.52L466.20 545.80L466.40 555.21L466.60 560.66L466.80 563.11L467.00 563.19L467.20 560.89L467.40 555.81L467.60 548.74L467.80 545.00L468.00 549.70L468.20 557.83L468.40 564.23L468.60 568.33L468.80 570.84L469.00 572.38L469.20 573.30L469.40 573.80L469.60 573.96L469.80 573.85L470.00 573.45L470.20 572.70L470.40 571.52L470.60 569.68L470.80 566.84L471.00 562.35L471.20 555.16L471.40 543.99L471.60 529.86L471.80 522.00L472.00 529.33L472.20 542.88L472.40 553.38L472.60 559.73L472.80 563.08L473.00 564.30L473.20 563.68L473.40 561.04L473.60 555.88L473.80 548.88L474.00 545.00L474.20 548.99L474.40 556.13L474.60 561.50L474.80 564.51L475.00 565.72L475.20 565.54L475.40 564.02L475.60 560.86L475.80 555.28L476.00 546.05L476.20 532.43L476.40 519.15L476.60 518.59L476.80 530.73L477.00 543.06L477.20 550.77L477.40 554.42L477.60 555.00L477.80 552.88L478.00 547.68L478.20 538.15L478.40 521.89L478.60 495.98L478.80 462.93L479.00 445.00L479.20 463.70L479.40 497.56L479.60 524.40L479.80 541.76L480.00 552.69L480.20 559.76L480.40 564.52L480.60 567.84L480.80 570.24L481.00 572.03L481.20 573.39L481.40 574.45L481.60 575.30L481.80 575.99L482.00 576.55L482.40 577.40L482.80 578.02L483.40 578.65L484.20 579.19L485.20 579.57L486.60 579.78L487.80 579.67L488.60 579.35L489.00 579.02L489.40 578.48L489.60 578.07L489.80 577.52L490.00 576.76L490.20 575.68L490.40 574.08L490.60 571.64L490.80 567.78L491.00 561.64L491.20 552.73L491.40 544.16L491.60 544.16L491.80 552.75L492.00 561.68L492.20 567.83L492.40 571.70L492.60 574.16L492.80 575.77L493.00 576.87L493.20 577.64L493.40 578.21L493.60 578.63L494.00 579.21L494.60 579.70L495.40 580.04L496.80 580.27L498.80 580.26L500.20 580.05L501.20 579.67L501.80 579.26L502.20 578.82L502.60 578.14L502.80 577.65L503.00 577.01L503.20 576.15L503.40 574.94L503.60 573.18L503.80 570.54L504.00 566.40L504.20 559.88L504.40 550.45L504.60 541.34L504.80 541.08L505.00 549.65L505.20 558.50L505.40 564.34L505.60 567.62L505.80 569.16L506.00 569.40L506.20 568.42L506.40 565.95L506.60 561.35L506.80 553.79L507.00 544.04L507.20 538.70L507.40 544.17L507.60 554.06L507.80 561.80L508.00 566.62L508.20 569.40L508.40 570.85L508.60 571.33L508.80 570.96L509.00 569.64L509.20 566.98L509.40 562.29L509.60 554.69L509.80 544.95L510.00 539.70L510.20 545.34L510.40 555.49L510.60 563.54L510.80 568.75L511.00 572.05L511.20 574.18L511.40 575.63L511.60 576.64L511.80 577.38L512.00 577.93L512.20 578.35L512.60 578.95L513.20 579.48L514.00 579.86L515.20 580.12L516.80 580.17L518.20 580.00L519.20 579.66L519.80 579.28L520.20 578.89L520.60 578.32L520.80 577.93L521.00 577.44L521.20 576.79L521.40 575.94L521.60 574.78L521.80 573.15L522.00 570.76L522.20 567.13L522.40 561.46L522.60 552.76L522.80 541.74L523.00 535.00L523.20 538.89L523.40 546.55L523.60 550.71L523.80 549.68L524.00 543.27L524.20 533.17L524.40 527.90L524.60 535.55L524.80 548.45L525.00 558.64L525.20 565.26L525.40 569.48L525.60 572.23L525.80 574.11L526.00 575.43L526.20 576.39L526.40 577.11L526.60 577.66L526.80 578.10L527.20 578.72L527.80 579.30L528.60 579.71L529.60 579.93L530.80 579.94L531.80 579.71L532.40 579.37L532.80 578.97L533.00 578.69L533.20 578.33L533.40 577.84L533.60 577.19L533.80 576.27L534.00 574.95L534.20 572.98L534.40 569.92L534.60 565.04L534.80 557.47L535.00 547.92L535.20 542.70L535.40 547.90L535.60 557.42L535.80 564.95L536.00 569.81L536.20 572.84L536.40 574.78L536.60 576.07L536.80 576.95L537.00 577.57L537.20 578.01L537.40 578.34L537.80 578.74L538.40 578.97L539.00 578.90L539.60 578.55L540.00 578.09L540.20 577.77L540.40 577.35L540.60 576.80L540.80 576.08L541.00 575.11L541.20 573.75L541.40 571.80L541.60 568.88L541.80 564.37L542.00 557.29L542.20 547.09L542.40 537.06L542.60 536.00L542.80 543.77L543.00 551.22L543.20 554.56L543.40 553.54L543.60 547.97L543.80 537.79L544.00 527.48L544.20 528.09L544.40 539.72L544.60 551.53L544.80 559.41L545.00 563.91L545.20 566.02L545.40 566.19L545.60 564.50L545.80 561.50L546.00 560.00L546.20 562.67L546.40 566.96L546.60 570.22L546.80 572.12L547.00 572.96L547.20 572.89L547.40 571.86L547.60 569.65L547.80 566.58L548.00 565.00L548.20 567.14L548.40 570.81L548.60 573.72L548.80 575.63L549.00 576.86L549.20 577.67L549.40 578.23L549.60 578.62L550.00 579.14L550.60 579.56L551.40 579.79L552.40 579.81L553.20 579.60L553.80 579.22L554.20 578.77L554.40 578.44L554.60 578.00L554.80 577.41L555.00 576.60L555.20 575.45L555.40 573.76L555.60 571.18L555.80 567.10L556.00 560.61L556.20 551.19L556.40 542.14L556.60 542.14L556.80 551.18L557.00 560.59L557.20 567.07L557.40 571.14L557.60 573.72L557.80 575.40L558.00 576.54L558.20 577.34L558.40 577.91L558.60 578.34L559.00 578.89L559.40 579.21L560.00 579.42L560.60 579.42L561.20 579.23L561.60 578.95L562.00 578.49L562.20 578.16L562.40 577.72L562.60 577.15L562.80 576.38L563.00 575.33L563.20 573.88L563.40 571.86L563.60 569.12L563.80 565.71L564.00 562.40L564.20 560.80L564.40 561.94L564.80 567.60L565.00 569.66L565.20 570.81L565.40 571.11L565.60 570.58L565.80 569.19L566.00 566.95L566.20 564.22L566.40 562.21L566.60 562.46L566.80 564.97L567.00 568.26L567.20 571.17L567.40 573.38L567.60 574.98L567.80 576.13L568.00 576.97L568.20 577.60L568.40 578.06L568.60 578.42L569.00 578.91L569.60 579.30L570.20 579.46L571.00 579.40L571.60 579.15L572.20 578.63L572.60 578.03L572.80 577.62L573.00 577.10L573.20 576.43L573.40 575.57L573.60 574.46L573.80 573.01L574.00 571.12L574.20 568.73L574.40 565.84L574.60 562.76L574.80 560.21L575.00 559.20L575.20 560.23L575.40 562.79L575.60 565.89L575.80 568.80L576.00 571.21L576.20 573.12L576.40 574.59L576.60 575.72L576.80 576.60L577.00 577.29L577.20 577.84L577.40 578.28L577.80 578.93L578.40 579.55L579.20 580.03L580.40 580.41L582.60 580.71L587.20 580.87L592.00 580.78L594.40 580.52L595.60 580.20L596.40 579.81L597.00 579.32L597.40 578.82L597.80 578.10L598.00 577.62L598.20 577.02L598.40 576.26L598.60 575.31L598.80 574.11L599.00 572.59L599.20 570.71L599.40 568.48L599.60 566.06L599.80 563.85L600.00 562.49L600.20 562.49L600.40 563.85L600.60 566.06L600.80 568.48L601.00 570.71L601.20 572.59L601.40 574.11L601.60 575.32L601.80 576.27L602.00 577.02L602.20 577.62L602.40 578.11L602.80 578.83L603.20 579.33L603.80 579.82L604.80 580.28L606.40 580.62L609.00 580.79L611.20 580.69L612.20 580.47L612.80 580.18L613.40 579.65L614.20 578.65L614.40 578.52L614.60 578.52L614.80 578.65L615.80 579.89L616.40 580.35L617.20 580.66L618.80 580.91L623.60 581.06L634.00 581.03L636.60 580.86L637.80 580.58L638.40 580.28L639.00 579.75L639.60 579.03L639.80 578.86L640.00 578.80L640.20 578.86L640.60 579.26L641.20 579.94L641.80 580.38L642.60 580.67L644.20 580.88L647.40 580.88L649.40 580.68L650.60 580.34L651.20 579.98L651.60 579.60L652.00 578.97L652.20 578.50L652.40 577.87L652.60 576.99L652.80 575.72L653.00 573.83L653.20 570.88L653.40 566.19L653.60 558.91L653.80 549.72L654.00 544.70L654.20 549.72L654.40 558.91L654.60 566.18L654.80 570.88L655.00 573.82L655.20 575.72L655.40 576.98L655.60 577.86L655.80 578.49L656.00 578.96L656.40 579.58L657.00 580.11L657.80 580.47L659.20 580.73L662.00 580.86L665.00 580.73L666.60 580.43L667.40 580.09L668.00 579.62L668.40 579.08L668.60 578.69L668.80 578.19L669.00 577.51L669.20 576.59L669.40 575.31L669.60 573.53L669.80 571.11L670.00 568.10L670.20 565.21L670.40 563.90L670.60 565.12L670.80 567.92L671.00 570.82L671.20 573.14L671.40 574.80L671.60 575.94L671.80 576.71L672.00 577.20L672.20 577.48L672.40 577.59L672.60 577.54L672.80 577.32L673.00 576.91L673.20 576.26L673.40 575.28L673.60 573.84L673.80 571.78L674.00 569.04L674.20 565.92L674.40 563.62L674.60 563.67L674.80 566.06L675.00 569.27L675.20 572.12L675.40 574.29L675.60 575.85L675.80 576.98L676.00 577.80L676.20 578.40L676.40 578.86L676.80 579.49L677.40 580.04L678.20 580.43L679.60 580.75L682.60 580.99L685.00 581.06" fill="none" stroke="#1f8c74" stroke-width="1.30" stroke-linejoin="round"/>
<path d="M11.00 652.81L15.40 652.55L17.40 652.23L18.60 651.83L19.40 651.37L20.00 650.82L20.40 650.29L20.80 649.54L21.00 649.06L21.20 648.47L21.40 647.74L21.60 646.84L21.80 645.72L22.00 644.29L22.20 642.46L22.40 640.13L22.60 637.15L22.80 633.45L23.00 629.12L23.20 624.63L23.40 621.02L23.60 619.60L23.80 621.02L24.00 624.63L24.20 629.12L24.40 633.45L24.60 637.15L24.80 640.12L25.00 642.46L25.20 644.28L25.40 645.71L25.60 646.83L25.80 647.73L26.00 648.45L26.20 649.04L26.40 649.53L26.80 650.27L27.40 651.00L28.00 651.48L29.00 651.95L30.40 652.28L32.20 652.42L33.40 652.29L34.00 652.04L34.40 651.71L34.80 651.15L35.20 650.45L35.40 650.23L35.60 650.24L35.80 650.47L36.40 651.52L36.80 651.99L37.40 652.37L38.40 652.64L41.00 652.83L54.40 652.96L125.20 653.00" fill="none" stroke="#2c2c92" stroke-width="1.30" stroke-linejoin="round"/>
<path d="M137.20 652.99L174.80 652.91L177.80 652.77L178.80 652.56L179.40 652.19L179.60 651.97L179.80 651.66L180.20 650.79L180.40 650.45L180.60 650.45L180.80 650.78L181.20 651.63L181.40 651.94L181.80 652.31L182.40 652.55L183.80 652.69L186.20 652.57L187.60 652.30L188.40 651.98L189.00 651.56L189.40 651.11L189.60 650.80L189.80 650.41L190.00 649.90L190.20 649.23L190.40 648.32L190.60 647.06L190.80 645.24L191.00 642.52L191.20 638.29L191.40 631.55L191.60 621.10L191.80 607.91L192.00 600.70L192.20 607.91L192.40 621.10L192.60 631.55L192.80 638.29L193.00 642.52L193.20 645.24L193.40 647.06L193.60 648.33L193.80 649.23L194.00 649.90L194.20 650.41L194.40 650.80L194.80 651.36L195.40 651.87L196.20 652.25L197.60 652.56L200.60 652.80L209.20 652.89L216.20 652.76L218.60 652.53L219.80 652.24L220.60 651.86L221.20 651.32L221.60 650.72L221.80 650.30L222.00 649.74L222.20 649.00L222.40 647.98L222.60 646.54L222.80 644.42L223.00 641.19L223.20 636.09L223.40 627.99L223.60 616.23L223.80 604.92L224.00 604.92L224.20 616.23L224.40 627.99L224.60 636.09L224.80 641.19L225.00 644.42L225.20 646.53L225.40 647.98L225.60 648.99L225.80 649.74L226.00 650.29L226.20 650.72L226.60 651.31L227.20 651.85L228.00 652.23L229.40 652.55L232.00 652.72L234.00 652.62L234.80 652.39L235.20 652.13L235.40 651.91L235.60 651.61L235.80 651.20L236.20 650.03L236.40 649.57L236.60 649.57L236.80 650.03L237.20 651.22L237.40 651.64L237.60 651.94L238.00 652.32L238.60 652.59L240.00 652.81L245.60 652.95L254.20 652.98" fill="none" stroke="#2c2c92" stroke-width="1.30" stroke-linejoin="round"/>
<path d="M266.50 651.63L268.90 651.17L270.30 650.66L271.10 650.18L271.70 649.61L272.10 649.06L272.50 648.27L272.70 647.74L272.90 647.07L273.10 646.22L273.30 645.12L273.50 643.64L273.70 641.63L273.90 638.83L274.10 634.84L274.30 629.13L274.50 621.31L274.70 612.03L274.90 604.81L275.10 604.77L275.30 611.91L275.50 621.11L275.70 628.85L275.90 634.47L276.10 638.38L276.30 641.10L276.50 643.03L276.70 644.42L276.90 645.45L277.10 646.21L277.30 646.80L277.50 647.25L277.90 647.88L278.30 648.26L278.90 648.59L279.90 648.78L282.10 648.69L284.70 648.61L288.90 648.89L290.10 648.77L290.90 648.47L291.50 647.99L291.90 647.44L292.10 647.06L292.30 646.58L292.50 645.95L292.70 645.13L292.90 644.04L293.10 642.55L293.30 640.47L293.50 637.53L293.70 633.31L293.90 627.34L294.10 619.56L294.30 611.66L294.50 608.00L294.70 611.57L294.90 619.38L295.10 627.07L295.30 632.93L295.50 637.04L295.70 639.85L295.90 641.78L296.10 643.09L296.30 643.98L296.50 644.56L296.70 644.90L296.90 645.06L297.10 645.06L297.30 644.94L297.90 644.21L298.10 644.02L298.30 643.96L298.50 644.08L298.70 644.38L298.90 644.83L299.70 646.98L300.10 647.84L300.50 648.49L301.10 649.16L301.90 649.70L303.10 650.12L304.90 650.37L307.90 650.39L311.90 650.07L315.90 649.43L319.70 648.53L323.70 647.25L328.90 645.41L331.30 644.82L333.30 644.60L335.30 644.69L337.70 645.14L344.50 647.05L347.50 647.62L350.10 647.83L352.70 647.74L355.50 647.31L358.90 646.50L359.50 646.22L359.90 645.81L360.10 645.51L360.30 645.34L360.50 645.48L360.90 645.96L361.30 646.17L361.90 646.16L362.30 645.89L362.50 645.66L362.70 645.56L362.90 645.77L363.30 646.38L363.70 646.74L365.10 647.42L369.30 649.14L372.30 650.06L375.70 650.79L380.30 651.42L386.90 651.93L397.50 652.33L405.90 652.51" fill="none" stroke="#2c2c92" stroke-width="1.30" stroke-linejoin="round"/>
<path d="M419.00 652.42L421.20 652.10L422.40 651.73L423.20 651.30L423.80 650.77L424.20 650.24L424.60 649.48L424.80 648.96L425.00 648.31L425.20 647.50L425.40 646.45L425.60 645.10L425.80 643.37L426.00 641.19L426.20 638.56L426.40 635.74L426.60 633.37L426.80 632.30L427.00 632.96L427.20 634.91L427.40 637.27L427.60 639.38L427.80 640.97L428.00 641.99L428.20 642.46L428.40 642.41L428.60 641.84L428.80 640.70L429.00 638.98L429.20 636.71L429.40 634.20L429.60 632.12L429.80 631.40L430.00 632.50L430.20 634.97L430.40 637.90L430.60 640.64L430.80 642.92L431.00 644.73L431.20 646.12L431.40 647.21L431.60 648.05L431.80 648.72L432.00 649.25L432.40 650.04L432.80 650.57L433.40 651.09L434.20 651.51L435.60 651.87L438.00 652.08L441.60 652.02L444.60 651.71L446.40 651.30L447.60 650.80L448.40 650.24L449.00 649.58L449.40 648.94L449.60 648.53L449.80 648.03L450.00 647.42L450.20 646.66L450.40 645.71L450.60 644.50L450.80 642.96L451.00 640.98L451.20 638.48L451.40 635.50L451.60 632.30L451.80 629.61L452.00 628.40L452.20 629.16L452.40 631.39L452.60 634.10L452.80 636.56L453.00 638.48L453.20 639.82L453.40 640.61L453.60 640.94L453.80 640.83L454.00 640.28L454.20 639.27L454.40 637.73L454.60 635.61L454.80 632.95L455.00 630.03L455.20 627.54L455.40 626.40L455.60 627.08L455.80 629.10L456.00 631.54L456.20 633.71L456.40 635.31L456.60 636.31L456.80 636.76L457.00 636.70L457.20 636.17L457.40 635.16L457.60 633.64L457.80 631.50L458.00 628.60L458.20 624.72L458.40 619.51L458.60 612.46L458.80 602.84L459.00 589.62L459.20 571.54L459.40 547.67L459.60 519.26L459.80 493.16L460.00 482.00L460.20 493.24L460.40 519.42L460.60 547.92L460.80 571.88L461.00 590.06L461.20 603.40L461.40 613.16L461.60 620.37L461.80 625.77L462.00 629.89L462.20 633.09L462.40 635.59L462.60 637.58L462.80 639.18L463.00 640.47L463.20 641.52L463.40 642.37L463.60 643.07L463.80 643.63L464.00 644.07L464.20 644.42L464.40 644.67L464.60 644.83L464.80 644.91L465.00 644.90L465.20 644.80L465.40 644.59L465.60 644.27L465.80 643.80L466.00 643.15L466.20 642.29L466.40 641.17L466.60 639.75L466.80 638.05L467.00 636.17L467.20 634.41L467.40 633.24L467.60 633.03L467.80 633.77L468.00 635.08L468.20 636.48L468.40 637.65L468.60 638.45L468.80 638.84L469.00 638.82L469.20 638.36L469.40 637.42L469.60 635.87L469.80 633.50L470.00 629.94L470.20 624.54L470.40 616.11L470.60 602.71L470.80 582.02L471.00 555.88L471.20 541.00L471.40 553.56L471.60 577.22L471.80 595.05L472.00 605.00L472.20 609.22L472.40 609.68L472.60 608.18L472.80 606.89L473.00 607.80L473.20 611.12L473.40 615.31L473.60 618.87L473.80 621.17L474.00 622.12L474.20 621.87L474.40 620.66L474.80 617.12L475.00 616.00L475.20 615.82L475.60 616.84L475.80 616.87L476.00 616.07L476.20 614.29L476.40 611.43L476.60 607.44L476.80 602.26L477.00 595.93L477.20 588.61L477.40 580.70L477.60 572.95L477.80 566.28L478.00 561.40L478.20 558.25L478.40 555.55L478.60 550.78L478.80 540.02L479.00 517.28L479.20 474.31L479.40 411.24L479.60 375.00L479.80 419.84L480.00 491.68L480.20 543.69L480.40 575.67L480.60 595.45L480.80 608.29L481.00 617.04L481.20 623.28L481.40 627.90L481.60 631.43L481.80 634.20L482.00 636.42L482.20 638.23L482.40 639.73L482.60 640.98L482.80 642.05L483.00 642.96L483.20 643.75L483.40 644.43L483.80 645.57L484.20 646.45L484.80 647.46L485.40 648.20L486.20 648.91L487.20 649.49L488.40 649.88L489.60 650.00L490.60 649.86L491.40 649.53L492.00 649.06L492.40 648.58L492.80 647.88L493.00 647.42L493.20 646.86L493.40 646.16L493.60 645.29L493.80 644.19L494.00 642.78L494.20 640.94L494.40 638.51L494.60 635.28L494.80 630.93L495.00 625.15L495.20 617.77L495.40 609.34L495.60 601.90L495.80 598.80L496.00 601.90L496.20 609.35L496.40 617.78L496.60 625.16L496.80 630.94L497.00 635.29L497.20 638.53L497.40 640.96L497.60 642.80L497.80 644.21L498.00 645.31L498.20 646.19L498.40 646.89L498.60 647.45L498.80 647.91L499.20 648.61L499.60 649.09L500.20 649.56L501.00 649.88L502.00 649.99L503.00 649.85L504.00 649.46L504.80 648.91L505.40 648.29L506.00 647.42L506.40 646.62L506.80 645.58L507.00 644.93L507.20 644.19L507.40 643.31L507.60 642.28L507.80 641.05L508.00 639.58L508.20 637.79L508.40 635.60L508.60 632.88L508.80 629.47L509.00 625.13L509.20 619.57L509.40 612.38L509.60 603.11L509.80 591.37L510.00 577.24L510.20 562.09L510.40 549.36L510.60 543.70L510.80 547.44L511.00 558.13L511.20 570.99L511.40 582.43L511.60 590.92L511.80 596.17L512.00 598.39L512.20 598.09L512.40 596.20L512.60 594.46L512.80 595.00L513.00 598.95L513.20 605.47L513.40 612.72L513.60 619.35L513.80 624.85L514.00 629.21L514.20 632.60L514.40 635.24L514.60 637.30L514.80 638.91L515.00 640.18L515.20 641.17L515.40 641.95L515.60 642.54L515.80 642.97L516.00 643.26L516.20 643.42L516.40 643.45L516.60 643.35L516.80 643.12L517.00 642.73L517.20 642.15L517.40 641.34L517.60 640.25L517.80 638.79L518.00 636.83L518.20 634.19L518.40 630.63L518.60 625.85L518.80 619.58L519.00 611.90L519.20 603.86L519.40 598.04L519.60 597.17L519.80 601.18L520.00 607.22L520.20 612.56L520.40 615.93L520.60 617.02L520.80 615.74L521.00 612.05L521.20 605.99L521.40 598.34L521.60 591.43L521.80 589.00L522.00 593.12L522.20 601.82L522.40 611.49L522.60 619.93L522.80 626.57L523.00 631.60L523.20 635.38L523.40 638.25L523.60 640.46L523.80 642.18L524.00 643.54L524.20 644.63L524.40 645.52L524.60 646.26L524.80 646.88L525.20 647.83L525.60 648.54L526.20 649.28L527.00 649.93L528.00 650.41L529.40 650.74L531.00 650.80L532.40 650.59L533.40 650.23L534.20 649.70L534.80 649.08L535.20 648.47L535.60 647.62L535.80 647.06L536.00 646.38L536.20 645.52L536.40 644.44L536.60 643.04L536.80 641.18L537.00 638.63L537.20 635.07L537.40 629.94L537.60 622.56L537.80 612.51L538.00 601.43L538.20 595.00L538.40 597.35L538.60 603.82L538.80 608.13L539.00 607.91L539.20 603.12L539.40 595.93L539.60 592.00L539.80 595.42L540.00 602.11L540.20 606.42L540.40 606.19L540.60 601.40L540.80 594.15L541.00 590.00L541.20 592.91L541.40 598.69L541.60 601.55L541.80 599.29L542.00 592.66L542.20 586.45L542.40 588.13L542.60 598.00L542.80 609.15L543.00 617.48L543.20 622.60L543.40 625.09L543.60 625.47L543.80 624.07L544.00 621.22L544.20 617.74L544.40 615.27L544.60 615.51L544.80 618.46L545.00 622.47L545.20 625.92L545.40 628.08L545.60 628.77L545.80 628.01L546.00 626.02L546.20 623.52L546.40 621.94L546.60 622.77L546.80 626.06L547.00 630.44L547.20 634.61L547.40 638.03L547.60 640.67L547.80 642.68L548.00 644.20L548.20 645.38L548.40 646.30L548.60 647.04L548.80 647.63L549.00 648.11L549.40 648.84L549.80 649.35L550.40 649.88L551.20 650.29L552.20 650.51L553.40 650.49L554.40 650.21L555.20 649.73L555.80 649.12L556.20 648.53L556.60 647.70L556.80 647.17L557.00 646.52L557.20 645.72L557.40 644.74L557.60 643.52L557.80 641.96L558.00 639.96L558.20 637.34L558.40 633.87L558.60 629.24L558.80 623.11L559.00 615.32L559.20 606.40L559.40 598.42L559.60 594.80L559.80 597.40L560.00 604.31L560.20 612.05L560.40 618.50L560.60 623.03L560.80 625.74L561.00 626.88L561.20 626.73L561.40 625.60L561.60 624.00L561.80 622.74L562.00 622.70L562.20 624.32L562.40 627.27L562.60 630.76L562.80 634.14L563.00 637.07L563.20 639.48L563.40 641.40L563.60 642.92L563.80 644.12L564.00 645.06L564.20 645.81L564.40 646.39L564.60 646.84L564.80 647.18L565.00 647.43L565.20 647.58L565.40 647.65L565.60 647.63L565.80 647.52L566.00 647.32L566.20 647.01L566.40 646.59L566.80 645.46L567.00 644.84L567.20 644.31L567.40 644.02L567.60 644.06L567.80 644.44L568.00 645.04L568.40 646.44L568.60 647.07L568.80 647.59L569.00 648.02L569.20 648.35L569.60 648.78L570.00 648.96L570.40 648.93L570.80 648.71L571.20 648.27L571.40 647.95L571.60 647.55L571.80 647.05L572.00 646.43L572.20 645.67L572.40 644.71L572.60 643.52L572.80 642.04L573.00 640.19L573.20 637.90L573.40 635.11L573.60 631.84L573.80 628.24L574.00 624.78L574.20 622.17L574.40 621.20L574.60 622.21L574.80 624.86L575.00 628.37L575.20 632.01L575.40 635.33L575.60 638.16L575.80 640.50L576.00 642.40L576.20 643.93L576.40 645.17L576.60 646.18L576.80 647.01L577.00 647.70L577.20 648.27L577.60 649.16L578.00 649.80L578.60 650.48L579.40 651.06L580.60 651.57L582.40 651.97L585.40 652.23L589.40 652.26L592.40 652.04L594.20 651.68L595.40 651.20L596.20 650.66L596.80 650.05L597.20 649.48L597.60 648.72L597.80 648.24L598.00 647.68L598.20 647.02L598.40 646.23L598.60 645.29L598.80 644.16L599.00 642.81L599.20 641.19L599.40 639.28L599.60 637.05L599.80 634.53L600.00 631.86L600.20 629.27L600.40 627.16L600.60 625.96L600.80 625.96L601.00 627.16L601.20 629.28L601.40 631.87L601.60 634.54L601.80 637.06L602.00 639.29L602.20 641.21L602.40 642.82L602.60 644.18L602.80 645.30L603.00 646.25L603.20 647.04L603.40 647.70L603.60 648.26L604.00 649.15L604.40 649.81L605.00 650.51L605.80 651.12L606.80 651.58L608.40 651.97L610.20 652.12L611.60 652.01L612.40 651.75L613.00 651.33L613.40 650.88L614.20 649.67L614.40 649.52L614.60 649.52L614.80 649.69L615.60 650.96L616.00 651.44L616.60 651.91L617.60 652.29L619.40 652.54L624.60 652.72L636.20 652.69L641.80 652.46L644.40 652.15L646.00 651.73L647.00 651.24L647.60 650.76L648.20 650.03L648.60 649.30L648.80 648.83L649.00 648.25L649.20 647.54L649.40 646.67L649.60 645.58L649.80 644.21L650.00 642.48L650.20 640.33L650.40 637.71L650.80 631.70L651.00 629.30L651.20 628.30L651.40 629.07L651.60 631.23L652.00 636.72L652.20 639.05L652.40 640.89L652.60 642.26L652.80 643.23L653.00 643.86L653.20 644.19L653.40 644.24L653.60 644.03L653.80 643.52L654.00 642.69L654.20 641.45L654.40 639.70L654.60 637.24L654.80 633.85L655.00 629.22L655.20 623.09L655.40 615.55L655.60 607.75L655.80 602.43L656.00 602.51L656.20 607.99L656.40 615.96L656.60 623.67L656.80 629.99L657.00 634.82L657.20 638.44L657.40 641.14L657.60 643.19L657.80 644.76L658.00 645.98L658.20 646.95L658.40 647.73L658.60 648.36L658.80 648.88L659.20 649.67L659.60 650.24L660.20 650.83L661.00 651.33L662.20 651.75L664.00 652.03L666.20 652.07L667.80 651.87L668.80 651.56L669.60 651.10L670.20 650.51L670.60 649.89L670.80 649.48L671.00 648.97L671.20 648.34L671.40 647.56L671.60 646.57L671.80 645.33L672.00 643.80L672.20 641.99L672.40 640.01L672.60 638.17L672.80 636.95L673.00 636.73L673.20 637.50L673.40 638.87L673.60 640.32L673.80 641.52L674.00 642.34L674.20 642.71L674.40 642.64L674.60 642.12L674.80 641.14L675.00 639.77L675.20 638.14L675.40 636.62L675.60 635.74L675.80 635.95L676.00 637.26L676.20 639.23L676.40 641.35L676.60 643.30L676.80 644.95L677.00 646.28L677.20 647.34L677.40 648.19L677.60 648.87L677.80 649.42L678.20 650.23L678.60 650.79L679.20 651.35L680.00 651.80L681.40 652.23L683.80 652.55L685.00 652.63" fill="none" stroke="#2c2c92" stroke-width="1.30" stroke-linejoin="round"/>
<text x="17.5" y="279.3" font-size="14.3" fill="#111">343 K</text>
<text x="17.5" y="351.3" font-size="14.3" fill="#111">333 K</text>
<text x="17.5" y="418.4" font-size="14.3" fill="#111">313 K</text>
<text x="17.5" y="489.1" font-size="14.3" fill="#111">293 K</text>
<text x="17.5" y="545.9" font-size="14.3" fill="#111">273 K</text>
<text x="17.5" y="612.8" font-size="14.3" fill="#111">253 K</text>
<path d="M316.0 298.0L316.0 341.0M315.0 370.0L310.8 415.0M311.7 443.0L306.0 499.4M305.2 512.0L298.2 572.7M298.2 578.0L298.2 643.0M329.7 299.7L330.5 341.0M330.5 370.0L329.7 415.0M329.7 443.0L329.7 499.0M329.7 512.0L333.4 568.5M343.8 298.0L343.8 341.0M343.8 370.0L342.7 415.0M341.8 443.0L339.9 499.4M339.0 512.0L333.4 568.5M332.5 578.0L332.5 643.0M372.8 298.0L372.8 341.0M372.0 370.0L370.8 415.0M370.6 443.0L369.2 499.4M368.6 512.0L367.2 568.5M365.8 578.0L361.5 643.0M444.0 300.0L444.0 333.5M444.0 369.0L439.6 418.0M439.6 444.8L437.0 497.0M435.7 512.8L432.7 556.0M432.7 583.0L428.4 627.4M600.2 300.0L600.2 350.0M600.2 369.0L600.2 421.0M600.2 441.0L600.2 497.0M600.2 513.0L600.2 559.0M600.5 584.0L600.7 622.0M666.2 300.0L666.2 350.0M667.0 369.0L667.6 420.0M669.0 441.0L668.9 497.0M671.4 512.8L672.0 559.2M673.0 584.0L674.5 632.0" stroke="#111" stroke-width="1.85" stroke-dasharray="2.7 5.7" fill="none"/>
<circle cx="460.7" cy="249" r="1.8" fill="#111"/>
<circle cx="468.8" cy="249" r="1.8" fill="#111"/>
<circle cx="479.0" cy="249" r="1.8" fill="#111"/>
<path d="M11.0 657.9H125.3M137.2 657.9H254.2M266.5 657.9H406.0M419.0 657.9H685.0" stroke="#808080" stroke-width="1.3" fill="none"/>
<path d="M21.6 657.9v2.6M36.0 657.9v2.6M50.5 657.9v2.6M64.9 657.9v2.6M79.4 657.9v2.6M93.8 657.9v2.6M108.3 657.9v2.6M122.8 657.9v2.6M151.5 657.9v2.6M165.8 657.9v2.6M180.2 657.9v2.6M194.6 657.9v2.6M208.9 657.9v2.6M223.2 657.9v2.6M237.6 657.9v2.6M251.9 657.9v2.6M278.6 657.9v2.6M293.1 657.9v2.6M307.5 657.9v2.6M321.9 657.9v2.6M336.4 657.9v2.6M350.9 657.9v2.6M365.3 657.9v2.6M379.8 657.9v2.6M394.2 657.9v2.6M429.0 657.9v2.6M443.5 657.9v2.6M458.0 657.9v2.6M472.5 657.9v2.6M487.0 657.9v2.6M501.5 657.9v2.6M516.0 657.9v2.6M530.5 657.9v2.6M545.0 657.9v2.6M559.5 657.9v2.6M574.0 657.9v2.6M588.5 657.9v2.6M603.0 657.9v2.6M617.5 657.9v2.6M632.0 657.9v2.6M646.5 657.9v2.6M661.0 657.9v2.6M675.5 657.9v2.6" stroke="#808080" stroke-width="1" fill="none"/>
<text class="axb" x="23.2" y="677.6">13.4</text>
<text class="axb" x="109.0" y="677.6">12.8</text>
<text class="axb" x="152.0" y="677.6">11.0</text>
<text class="axb" x="237.8" y="677.6">10.4</text>
<text class="axb" x="307.8" y="677.6">8.4</text>
<text class="axb" x="365.3" y="677.6">8.0</text>
<text class="axb" x="443.5" y="677.6">7.2</text>
<text class="axb" x="501.8" y="677.6">6.8</text>
<text class="axb" x="559.8" y="677.6">6.4</text>
<text class="axb" x="617.5" y="677.6">6.0</text>
<text class="axb" x="675.8" y="677.6">5.6</text>
<path d="M123.4 663.6L131.4 650.3M130.4 663.6L138.2 650.3" stroke="#1a1a1a" stroke-width="1.7" fill="none"/>
<path d="M253.2 663.6L261.2 650.3M260.2 663.6L268.0 650.3" stroke="#1a1a1a" stroke-width="1.7" fill="none"/>
<path d="M404.4 663.6L412.4 650.3M411.4 663.6L419.2 650.3" stroke="#1a1a1a" stroke-width="1.7" fill="none"/>
<path d="M295 700.6H311.3" stroke="#111" stroke-width="2.3" fill="none"/><path d="M287.4 700.6L296.8 696V705.2Z" fill="#111"/>
<text x="316.6" y="706.3" font-size="17" fill="#111">δ <tspan dy="-5.5" font-size="11.5">1</tspan><tspan dy="5.5">H (ppm)</tspan></text>
<path d="M125.5 38.5L141.6 29.3L157.0 38.5L157.0 59.5L141.6 69.5L125.5 60.8Z" fill="none" stroke="#9c119c" stroke-width="2.80" stroke-linejoin="round" stroke-linecap="round" />
<path d="M94.4 50.9L77.6 52.6L69.6 70.7L79.6 86.8L97.0 83.9L105.6 67.0Z" fill="none" stroke="#9c119c" stroke-width="2.80" stroke-linejoin="round" stroke-linecap="round" />
<path d="M125.5 60.8L105.6 67.0" fill="none" stroke="#9c119c" stroke-width="2.80" stroke-linejoin="round" stroke-linecap="round" />
<path d="M112.5 36.2L125.5 38.5" fill="none" stroke="#9c119c" stroke-width="2.80" stroke-linejoin="round" stroke-linecap="round" />
<path d="M103.5 40.5L94.4 50.9" fill="none" stroke="#9c119c" stroke-width="2.80" stroke-linejoin="round" stroke-linecap="round" />
<path d="M100.6 19.5L103.8 27.5" fill="none" stroke="#9c119c" stroke-width="2.80" stroke-linejoin="round" stroke-linecap="round" />
<path d="M128.6 41.5L128.6 58.0" fill="none" stroke="#9c119c" stroke-width="1.10" stroke-linejoin="round" stroke-linecap="round" />
<path d="M143.6 34.2L153.6 40.3" fill="none" stroke="#9c119c" stroke-width="1.10" stroke-linejoin="round" stroke-linecap="round" />
<path d="M153.6 57.7L142.6 64.8" fill="none" stroke="#9c119c" stroke-width="1.10" stroke-linejoin="round" stroke-linecap="round" />
<path d="M80.0 56.0L73.6 70.4" fill="none" stroke="#9c119c" stroke-width="1.10" stroke-linejoin="round" stroke-linecap="round" />
<path d="M81.6 83.2L94.4 81.0" fill="none" stroke="#9c119c" stroke-width="1.10" stroke-linejoin="round" stroke-linecap="round" />
<path d="M102.6 66.3L94.6 54.3" fill="none" stroke="#9c119c" stroke-width="1.10" stroke-linejoin="round" stroke-linecap="round" />
<path d="M157.0 59.5L175.0 70.7L173.6 88.6" fill="none" stroke="#9c119c" stroke-width="2.80" stroke-linejoin="round" stroke-linecap="round" />
<path d="M170.2 73.5L169.3 86.0" fill="none" stroke="#9c119c" stroke-width="1.10" stroke-linejoin="round" stroke-linecap="round" />
<path d="M79.6 86.8L69.6 106.0" fill="none" stroke="#9c119c" stroke-width="2.80" stroke-linejoin="round" stroke-linecap="round" />
<path d="M54.5 104.8L69.6 106.0" fill="none" stroke="#9c119c" stroke-width="1.10" stroke-linejoin="round" stroke-linecap="round" />
<path d="M173.6 88.6L184.6 92.2" fill="none" stroke="#9c119c" stroke-width="2.80" stroke-linejoin="round" stroke-linecap="round" />
<path d="M190.4 99.8L187.2 110.5L167.5 112.7L157.7 98.5L173.6 88.6" fill="none" stroke="#9c119c" stroke-width="2.80" stroke-linejoin="round" stroke-linecap="round" />
<path d="M163.6 100.2L170.4 109.4" fill="none" stroke="#9c119c" stroke-width="1.10" stroke-linejoin="round" stroke-linecap="round" />
<path d="M187.2 110.5L203.6 120.8L223.4 119.3" fill="none" stroke="#9c119c" stroke-width="2.80" stroke-linejoin="round" stroke-linecap="round" />
<path d="M202.4 122.6L200.4 132.4" fill="none" stroke="#9c119c" stroke-width="1.10" stroke-linejoin="round" stroke-linecap="round" />
<path d="M223.4 119.3L228.6 115.8" fill="none" stroke="#9c119c" stroke-width="2.80" stroke-linejoin="round" stroke-linecap="round" />
<path d="M237.2 111.8L249.6 111.6L254.0 124.7L237.6 129.6L223.4 119.3" fill="none" stroke="#9c119c" stroke-width="2.80" stroke-linejoin="round" stroke-linecap="round" />
<path d="M249.6 111.6L263.9 109.4" fill="none" stroke="#9c119c" stroke-width="2.80" stroke-linejoin="round" stroke-linecap="round" />
<path d="M239.8 125.8L249.6 122.6" fill="none" stroke="#9c119c" stroke-width="1.10" stroke-linejoin="round" stroke-linecap="round" />
<path d="M263.9 109.4L273.7 112.0" fill="none" stroke="#787878" stroke-width="1.10" stroke-linejoin="round" stroke-linecap="round" />
<path d="M175.3 69.6L192.8 56.4" fill="none" stroke="#9c119c" stroke-width="1.15" stroke-linejoin="round" stroke-linecap="round" />
<path d="M192.8 56.4L210.6 33.1L221.2 29.6L215.9 44.2L203.6 55.6Z" fill="none" stroke="#9c119c" stroke-width="1.15" stroke-linejoin="round" stroke-linecap="round" />
<path d="M196.6 52.6L212.6 36.3" fill="none" stroke="#9c119c" stroke-width="1.15" stroke-linejoin="round" stroke-linecap="round" />
<path d="M217.0 36.6L214.0 44.0" fill="none" stroke="#9c119c" stroke-width="1.15" stroke-linejoin="round" stroke-linecap="round" />
<path d="M193.7 59.9L200.1 58.7" fill="none" stroke="#9c119c" stroke-width="1.15" stroke-linejoin="round" stroke-linecap="round" />
<path d="M221.2 29.6L233.9 20.2" fill="none" stroke="#9c119c" stroke-width="1.15" stroke-linejoin="round" stroke-linecap="round" />
<path d="M183.1 52.9L193.7 48.5" fill="none" stroke="#9c119c" stroke-width="1.15" stroke-linejoin="round" stroke-linecap="round" />
<path d="M198.0 62.6L201.2 57.7" fill="none" stroke="#9c119c" stroke-width="1.15" stroke-linejoin="round" stroke-linecap="round" />
<path d="M221.7 72.7L238.0 61.2" fill="none" stroke="#111" stroke-width="1.50" stroke-linejoin="round" stroke-linecap="round" />
<path d="M211.7 71.3L202.9 52.9" fill="none" stroke="#111" stroke-width="1.40" stroke-linejoin="round" stroke-linecap="round" stroke-dasharray="4.2 2.6" stroke-linecap="butt"/>
<path d="M205.9 85.0L195.9 90.9" fill="none" stroke="#111" stroke-width="1.50" stroke-linejoin="round" stroke-linecap="round" />
<path d="M217.3 86.2L228.6 107.2" fill="none" stroke="#111" stroke-width="1.40" stroke-linejoin="round" stroke-linecap="round" />
<text x="214.3" y="82.6" font-size="11.5" fill="#111" text-anchor="middle">Pd</text>
<text x="255.6" y="61.3" font-size="11.5" fill="#111" text-anchor="middle">COOH</text>
<path d="M69.6 106.0L78.3 124.2" fill="none" stroke="#787878" stroke-width="1.10" stroke-linejoin="round" stroke-linecap="round" />
<path d="M66.6 107.5L75.2 125.4" fill="none" stroke="#787878" stroke-width="1.10" stroke-linejoin="round" stroke-linecap="round" />
<path d="M78.3 124.2L92.8 127.3" fill="none" stroke="#787878" stroke-width="1.10" stroke-linejoin="round" stroke-linecap="round" />
<path d="M98.2 132.5L99.4 145.0L80.8 153.2L67.9 139.6L78.3 124.2" fill="none" stroke="#787878" stroke-width="1.10" stroke-linejoin="round" stroke-linecap="round" />
<path d="M96.2 133.5L96.9 143.5" fill="none" stroke="#787878" stroke-width="1.10" stroke-linejoin="round" stroke-linecap="round" />
<path d="M71.5 139.4L81.6 150.0" fill="none" stroke="#787878" stroke-width="1.10" stroke-linejoin="round" stroke-linecap="round" />
<path d="M99.4 145.0L119.3 153.2L135.4 145.0" fill="none" stroke="#787878" stroke-width="1.10" stroke-linejoin="round" stroke-linecap="round" />
<path d="M120.6 150.2L134.0 143.0" fill="none" stroke="#787878" stroke-width="1.10" stroke-linejoin="round" stroke-linecap="round" />
<path d="M119.3 153.2L120.5 165.2" fill="none" stroke="#787878" stroke-width="1.10" stroke-linejoin="round" stroke-linecap="round" />
<path d="M135.4 145.0L134.0 134.5" fill="none" stroke="#787878" stroke-width="1.10" stroke-linejoin="round" stroke-linecap="round" />
<path d="M139.5 127.5L152.8 124.7L165.9 140.8L156.0 152.0L135.4 145.0" fill="none" stroke="#787878" stroke-width="1.10" stroke-linejoin="round" stroke-linecap="round" />
<path d="M162.6 141.0L155.4 149.0" fill="none" stroke="#787878" stroke-width="1.10" stroke-linejoin="round" stroke-linecap="round" />
<path d="M152.8 124.7L159.0 111.8" fill="none" stroke="#787878" stroke-width="1.10" stroke-linejoin="round" stroke-linecap="round" />
<path d="M155.8 125.5L161.6 113.4" fill="none" stroke="#787878" stroke-width="1.10" stroke-linejoin="round" stroke-linecap="round" />
<path d="M145.5 104.8L159.0 111.8" fill="none" stroke="#787878" stroke-width="1.10" stroke-linejoin="round" stroke-linecap="round" />
<path d="M159.0 111.8L163.0 105.0" fill="none" stroke="#787878" stroke-width="1.10" stroke-linejoin="round" stroke-linecap="round" />
<path d="M235.2 86.7L245.3 76.6" fill="none" stroke="#787878" stroke-width="1.10" stroke-linejoin="round" stroke-linecap="round" />
<path d="M235.6 91.0L257.9 90.1L265.9 94.0L252.3 102.0L240.0 101.6L234.0 97.4" fill="none" stroke="#787878" stroke-width="1.10" stroke-linejoin="round" stroke-linecap="round" />
<path d="M241.0 97.6L259.5 92.8" fill="none" stroke="#787878" stroke-width="1.10" stroke-linejoin="round" stroke-linecap="round" />
<path d="M239.4 94.2L245.0 91.9" fill="none" stroke="#787878" stroke-width="1.10" stroke-linejoin="round" stroke-linecap="round" />
<path d="M225.5 93.0L220.2 94.4L211.3 96.0L181.6 104.0L177.6 106.0L180.0 107.6L207.3 100.9L222.6 100.0L234.0 97.4" fill="none" stroke="#787878" stroke-width="1.10" stroke-linejoin="round" stroke-linecap="round" />
<path d="M186.0 104.6L203.0 99.8" fill="none" stroke="#787878" stroke-width="1.10" stroke-linejoin="round" stroke-linecap="round" />
<path d="M211.3 96.0L207.3 100.9" fill="none" stroke="#787878" stroke-width="1.10" stroke-linejoin="round" stroke-linecap="round" />
<path d="M252.3 102.0L263.9 109.4" fill="none" stroke="#787878" stroke-width="1.10" stroke-linejoin="round" stroke-linecap="round" />
<path d="M240.0 101.6L249.6 111.6" fill="none" stroke="#787878" stroke-width="1.10" stroke-linejoin="round" stroke-linecap="round" />
<text class="pu" x="107" y="39.2" text-anchor="middle" font-size="12">N</text>
<text class="pu" x="190.2" y="99.2" text-anchor="middle" style="font-size:11.5px">N</text>
<text class="pu" x="232.3" y="117.5" text-anchor="middle" style="font-size:11.5px">N</text>
<text class="gr" x="230.6" y="95.4" text-anchor="middle" style="font-size:11.5px">N</text>
<text class="gr" x="97" y="132.6" text-anchor="middle" style="font-size:11.5px">N</text>
<text class="gr" x="131.5" y="133.8" text-anchor="middle" style="font-size:11.5px">HN</text>
<text class="pu" x="81.5" y="18" style="font-size:11.6px">Boc</text>
<text class="pu" x="30" y="110.6">Mes</text>
<text class="gr" x="123" y="108">Mes</text>
<text class="gr" x="274.8" y="117">Mes</text>
<text class="gr" x="247" y="75.8">Boc</text>
<text class="pu" x="183.8" y="142.4">C<tspan dy="2.5" font-size="8.5">6</tspan><tspan dy="-2.5">F</tspan><tspan dy="2.5" font-size="8.5">5</tspan></text>
<text class="gr" x="116" y="175">C<tspan dy="2.5" font-size="8.5">6</tspan><tspan dy="-2.5">F</tspan><tspan dy="2.5" font-size="8.5">5</tspan></text>
<text class="bi" x="77.0" y="16.0" text-anchor="middle">b</text>
<text class="bi" x="140.5" y="29.0" text-anchor="middle">f</text>
<text class="bi" x="163.5" y="41.0" text-anchor="middle">e</text>
<text class="bi" x="71.0" y="54.0" text-anchor="middle">g</text>
<text class="bi" x="62.0" y="75.0" text-anchor="middle">h</text>
<text class="bi" x="103.0" y="94.0" text-anchor="middle">c</text>
<text class="bi" x="143.0" y="83.0" text-anchor="middle">d</text>
<text class="bi" x="118.8" y="131.0" text-anchor="middle">a</text>
<text class="bi" x="59.5" y="161.5" text-anchor="middle">k + l</text>
<text class="bi" x="168.8" y="145.0" text-anchor="middle">i</text>
<text class="bi" x="157.6" y="163.5" text-anchor="middle">j</text>
<text class="bi" x="167.6" y="128.0" text-anchor="middle">j'</text>
<text class="bi" x="155.7" y="102.0" text-anchor="middle">i'</text>
<text class="bi" x="177.6" y="102.5" text-anchor="middle">e'</text>
<text class="bi" x="206.0" y="97.0" text-anchor="middle">f'</text>
<text class="bi" x="201.0" y="113.0" text-anchor="middle">d'</text>
<text class="bi" x="240.3" y="77.0" text-anchor="middle">b'</text>
<text class="bi" x="258.7" y="88.6" text-anchor="middle">g'</text>
<text class="bi" x="273.6" y="98.8" text-anchor="middle">h'</text>
<text class="bi" x="242.2" y="109.0" text-anchor="middle">c'</text>
<text class="bi" x="262.8" y="141.4" text-anchor="middle">k' + l'</text>
</svg>
</body></html>
